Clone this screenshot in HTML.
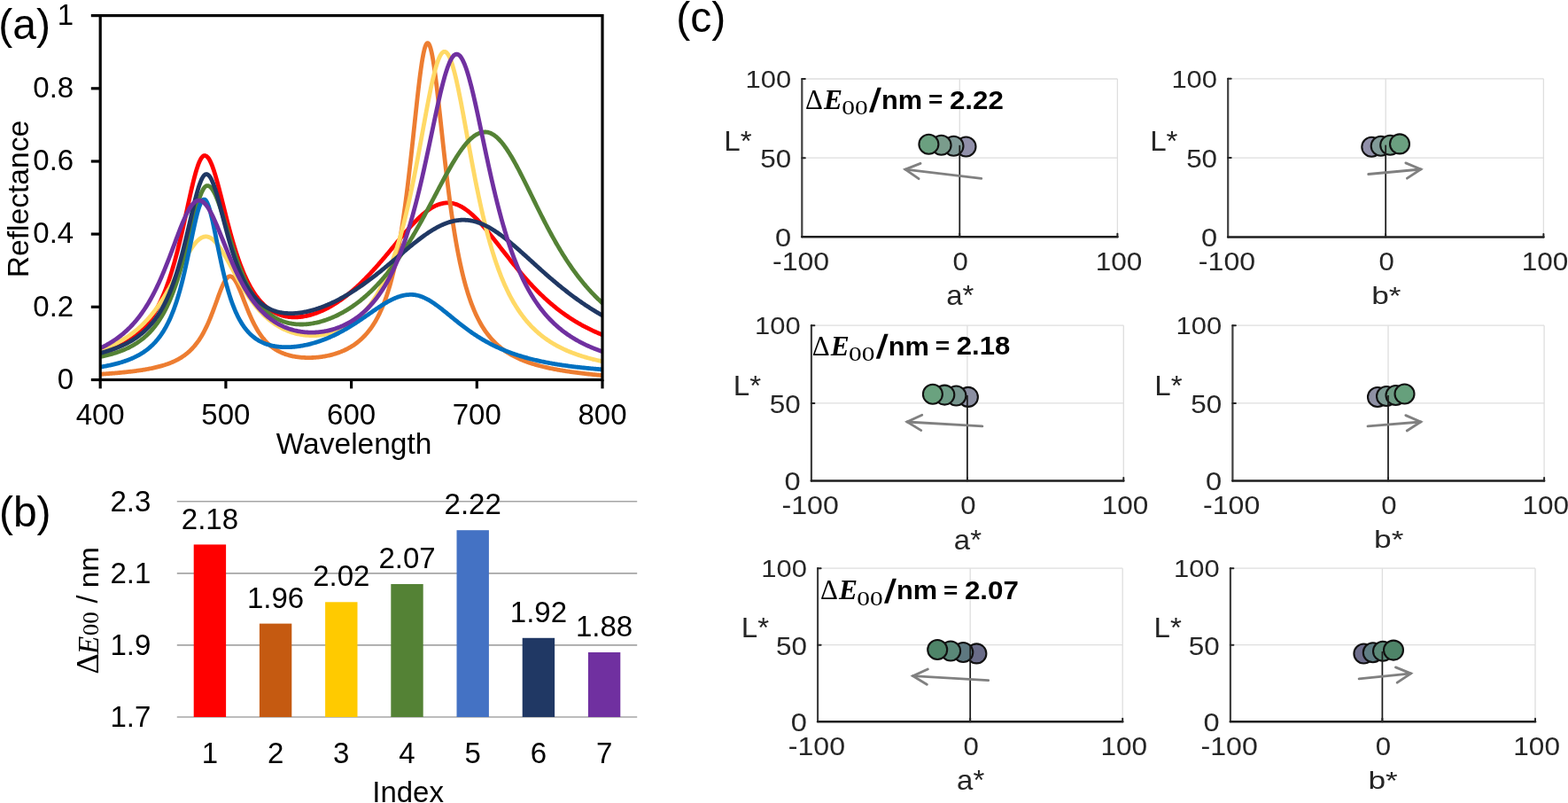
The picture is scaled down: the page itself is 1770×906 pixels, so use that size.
<!DOCTYPE html>
<html><head><meta charset="utf-8"><title>Figure</title>
<style>html,body{margin:0;padding:0;background:#fff;} svg{display:block;}</style>
</head><body>
<svg width="1770" height="906" viewBox="0 0 1770 906">
<rect width="1770" height="906" fill="#fff"/>
<defs><clipPath id="clipA"><rect x="113.2" y="17.6" width="566.8" height="410.9"/></clipPath></defs>
<g clip-path="url(#clipA)" fill="none" stroke-width="4.8" stroke-linejoin="round" stroke-linecap="round">
<path d="M111.2,398.75 L112.2,398.50 L113.2,398.24 L114.2,397.98 L115.2,397.70 L116.2,397.42 L117.2,397.13 L118.2,396.84 L119.2,396.53 L120.2,396.22 L121.2,395.89 L122.2,395.56 L123.2,395.22 L124.2,394.86 L125.2,394.50 L126.2,394.13 L127.2,393.75 L128.2,393.35 L129.2,392.94 L130.2,392.53 L131.2,392.09 L132.2,391.65 L133.2,391.20 L134.2,390.73 L135.2,390.24 L136.2,389.75 L137.2,389.23 L138.2,388.71 L139.2,388.16 L140.2,387.60 L141.2,387.03 L142.2,386.43 L143.2,385.82 L144.2,385.19 L145.2,384.54 L146.2,383.87 L147.2,383.18 L148.2,382.47 L149.2,381.74 L150.2,380.98 L151.2,380.20 L152.2,379.40 L153.2,378.57 L154.2,377.71 L155.2,376.83 L156.2,375.92 L157.2,374.98 L158.2,374.01 L159.2,373.00 L160.2,371.97 L161.2,370.90 L162.2,369.79 L163.2,368.65 L164.2,367.47 L165.2,366.25 L166.2,364.99 L167.2,363.69 L168.2,362.34 L169.2,360.95 L170.2,359.51 L171.2,358.02 L172.2,356.48 L173.2,354.89 L174.2,353.24 L175.2,351.53 L176.2,349.77 L177.2,347.94 L178.2,346.05 L179.2,344.09 L180.2,342.06 L181.2,339.97 L182.2,337.79 L183.2,335.55 L184.2,333.22 L185.2,330.82 L186.2,328.33 L187.2,325.75 L188.2,323.09 L189.2,320.33 L190.2,317.49 L191.2,314.54 L192.2,311.51 L193.2,308.37 L194.2,305.13 L195.2,301.79 L196.2,298.35 L197.2,294.80 L198.2,291.16 L199.2,287.41 L200.2,283.56 L201.2,279.61 L202.2,275.57 L203.2,271.43 L204.2,267.21 L205.2,262.91 L206.2,258.53 L207.2,254.09 L208.2,249.59 L209.2,245.05 L210.2,240.48 L211.2,235.90 L212.2,231.32 L213.2,226.75 L214.2,222.23 L215.2,217.78 L216.2,213.40 L217.2,209.14 L218.2,205.02 L219.2,201.06 L220.2,197.29 L221.2,193.74 L222.2,190.43 L223.2,187.40 L224.2,184.67 L225.2,182.26 L226.2,180.19 L227.2,178.48 L228.2,177.15 L229.2,176.21 L230.2,175.67 L231.2,175.52 L232.2,175.73 L233.2,176.28 L234.2,177.17 L235.2,178.38 L236.2,179.92 L237.2,181.76 L238.2,183.88 L239.2,186.27 L240.2,188.92 L241.2,191.79 L242.2,194.87 L243.2,198.14 L244.2,201.56 L245.2,205.14 L246.2,208.83 L247.2,212.62 L248.2,216.49 L249.2,220.42 L250.2,224.39 L251.2,228.39 L252.2,232.40 L253.2,236.40 L254.2,240.38 L255.2,244.34 L256.2,248.26 L257.2,252.12 L258.2,255.93 L259.2,259.68 L260.2,263.36 L261.2,266.96 L262.2,270.48 L263.2,273.92 L264.2,277.27 L265.2,280.54 L266.2,283.72 L267.2,286.80 L268.2,289.80 L269.2,292.71 L270.2,295.53 L271.2,298.26 L272.2,300.90 L273.2,303.46 L274.2,305.93 L275.2,308.31 L276.2,310.61 L277.2,312.84 L278.2,314.98 L279.2,317.05 L280.2,319.04 L281.2,320.96 L282.2,322.80 L283.2,324.58 L284.2,326.29 L285.2,327.94 L286.2,329.52 L287.2,331.04 L288.2,332.50 L289.2,333.90 L290.2,335.24 L291.2,336.54 L292.2,337.77 L293.2,338.96 L294.2,340.10 L295.2,341.19 L296.2,342.23 L297.2,343.23 L298.2,344.19 L299.2,345.10 L300.2,345.97 L301.2,346.80 L302.2,347.60 L303.2,348.35 L304.2,349.07 L305.2,349.75 L306.2,350.40 L307.2,351.02 L308.2,351.60 L309.2,352.16 L310.2,352.68 L311.2,353.17 L312.2,353.64 L313.2,354.07 L314.2,354.48 L315.2,354.87 L316.2,355.22 L317.2,355.55 L318.2,355.86 L319.2,356.14 L320.2,356.40 L321.2,356.64 L322.2,356.85 L323.2,357.05 L324.2,357.22 L325.2,357.37 L326.2,357.50 L327.2,357.61 L328.2,357.70 L329.2,357.77 L330.2,357.82 L331.2,357.86 L332.2,357.87 L333.2,357.87 L334.2,357.85 L335.2,357.82 L336.2,357.76 L337.2,357.70 L338.2,357.61 L339.2,357.51 L340.2,357.39 L341.2,357.26 L342.2,357.11 L343.2,356.94 L344.2,356.76 L345.2,356.57 L346.2,356.36 L347.2,356.14 L348.2,355.90 L349.2,355.65 L350.2,355.38 L351.2,355.11 L352.2,354.81 L353.2,354.51 L354.2,354.19 L355.2,353.85 L356.2,353.50 L357.2,353.14 L358.2,352.77 L359.2,352.38 L360.2,351.98 L361.2,351.57 L362.2,351.15 L363.2,350.71 L364.2,350.26 L365.2,349.80 L366.2,349.32 L367.2,348.83 L368.2,348.33 L369.2,347.82 L370.2,347.29 L371.2,346.76 L372.2,346.21 L373.2,345.64 L374.2,345.07 L375.2,344.48 L376.2,343.89 L377.2,343.27 L378.2,342.65 L379.2,342.02 L380.2,341.37 L381.2,340.71 L382.2,340.04 L383.2,339.36 L384.2,338.67 L385.2,337.96 L386.2,337.24 L387.2,336.51 L388.2,335.77 L389.2,335.02 L390.2,334.25 L391.2,333.48 L392.2,332.69 L393.2,331.89 L394.2,331.08 L395.2,330.25 L396.2,329.42 L397.2,328.57 L398.2,327.72 L399.2,326.85 L400.2,325.97 L401.2,325.08 L402.2,324.18 L403.2,323.26 L404.2,322.34 L405.2,321.41 L406.2,320.46 L407.2,319.50 L408.2,318.54 L409.2,317.56 L410.2,316.57 L411.2,315.58 L412.2,314.57 L413.2,313.55 L414.2,312.52 L415.2,311.49 L416.2,310.44 L417.2,309.38 L418.2,308.32 L419.2,307.24 L420.2,306.16 L421.2,305.07 L422.2,303.97 L423.2,302.86 L424.2,301.74 L425.2,300.62 L426.2,299.48 L427.2,298.34 L428.2,297.20 L429.2,296.05 L430.2,294.89 L431.2,293.72 L432.2,292.55 L433.2,291.37 L434.2,290.19 L435.2,289.01 L436.2,287.82 L437.2,286.62 L438.2,285.43 L439.2,284.22 L440.2,283.02 L441.2,281.82 L442.2,280.61 L443.2,279.40 L444.2,278.19 L445.2,276.98 L446.2,275.77 L447.2,274.57 L448.2,273.36 L449.2,272.16 L450.2,270.95 L451.2,269.76 L452.2,268.56 L453.2,267.37 L454.2,266.18 L455.2,265.00 L456.2,263.83 L457.2,262.66 L458.2,261.51 L459.2,260.35 L460.2,259.21 L461.2,258.08 L462.2,256.96 L463.2,255.85 L464.2,254.75 L465.2,253.67 L466.2,252.60 L467.2,251.54 L468.2,250.50 L469.2,249.47 L470.2,248.46 L471.2,247.47 L472.2,246.49 L473.2,245.54 L474.2,244.60 L475.2,243.69 L476.2,242.79 L477.2,241.92 L478.2,241.07 L479.2,240.24 L480.2,239.44 L481.2,238.66 L482.2,237.90 L483.2,237.18 L484.2,236.48 L485.2,235.80 L486.2,235.16 L487.2,234.54 L488.2,233.95 L489.2,233.40 L490.2,232.87 L491.2,232.37 L492.2,231.91 L493.2,231.47 L494.2,231.07 L495.2,230.70 L496.2,230.37 L497.2,230.06 L498.2,229.79 L499.2,229.56 L500.2,229.36 L501.2,229.19 L502.2,229.06 L503.2,228.96 L504.2,228.89 L505.2,228.87 L506.2,228.87 L507.2,228.92 L508.2,229.00 L509.2,229.12 L510.2,229.27 L511.2,229.47 L512.2,229.70 L513.2,229.97 L514.2,230.27 L515.2,230.61 L516.2,230.99 L517.2,231.40 L518.2,231.85 L519.2,232.33 L520.2,232.85 L521.2,233.40 L522.2,233.98 L523.2,234.60 L524.2,235.24 L525.2,235.92 L526.2,236.63 L527.2,237.37 L528.2,238.13 L529.2,238.93 L530.2,239.75 L531.2,240.60 L532.2,241.48 L533.2,242.38 L534.2,243.31 L535.2,244.25 L536.2,245.23 L537.2,246.22 L538.2,247.24 L539.2,248.27 L540.2,249.33 L541.2,250.40 L542.2,251.49 L543.2,252.60 L544.2,253.72 L545.2,254.86 L546.2,256.01 L547.2,257.18 L548.2,258.36 L549.2,259.55 L550.2,260.76 L551.2,261.97 L552.2,263.19 L553.2,264.42 L554.2,265.66 L555.2,266.91 L556.2,268.16 L557.2,269.42 L558.2,270.69 L559.2,271.96 L560.2,273.23 L561.2,274.50 L562.2,275.78 L563.2,277.06 L564.2,278.35 L565.2,279.63 L566.2,280.91 L567.2,282.19 L568.2,283.47 L569.2,284.75 L570.2,286.03 L571.2,287.31 L572.2,288.58 L573.2,289.85 L574.2,291.12 L575.2,292.38 L576.2,293.64 L577.2,294.89 L578.2,296.14 L579.2,297.38 L580.2,298.62 L581.2,299.85 L582.2,301.07 L583.2,302.29 L584.2,303.50 L585.2,304.70 L586.2,305.90 L587.2,307.09 L588.2,308.27 L589.2,309.44 L590.2,310.60 L591.2,311.76 L592.2,312.90 L593.2,314.04 L594.2,315.17 L595.2,316.29 L596.2,317.40 L597.2,318.50 L598.2,319.59 L599.2,320.67 L600.2,321.75 L601.2,322.81 L602.2,323.86 L603.2,324.91 L604.2,325.94 L605.2,326.96 L606.2,327.98 L607.2,328.98 L608.2,329.97 L609.2,330.96 L610.2,331.93 L611.2,332.90 L612.2,333.85 L613.2,334.79 L614.2,335.73 L615.2,336.65 L616.2,337.56 L617.2,338.47 L618.2,339.36 L619.2,340.24 L620.2,341.12 L621.2,341.98 L622.2,342.84 L623.2,343.68 L624.2,344.52 L625.2,345.34 L626.2,346.16 L627.2,346.96 L628.2,347.76 L629.2,348.55 L630.2,349.33 L631.2,350.09 L632.2,350.85 L633.2,351.60 L634.2,352.34 L635.2,353.08 L636.2,353.80 L637.2,354.51 L638.2,355.22 L639.2,355.92 L640.2,356.60 L641.2,357.28 L642.2,357.95 L643.2,358.62 L644.2,359.27 L645.2,359.92 L646.2,360.55 L647.2,361.18 L648.2,361.80 L649.2,362.42 L650.2,363.02 L651.2,363.62 L652.2,364.21 L653.2,364.79 L654.2,365.36 L655.2,365.93 L656.2,366.49 L657.2,367.04 L658.2,367.59 L659.2,368.12 L660.2,368.65 L661.2,369.18 L662.2,369.69 L663.2,370.20 L664.2,370.70 L665.2,371.20 L666.2,371.69 L667.2,372.17 L668.2,372.64 L669.2,373.11 L670.2,373.58 L671.2,374.03 L672.2,374.48 L673.2,374.93 L674.2,375.36 L675.2,375.79 L676.2,376.22 L677.2,376.64 L678.2,377.05 L679.2,377.46 L680.2,377.86 L681.2,378.26" stroke="#FF0000"/>
<path d="M111.2,422.32 L112.2,422.26 L113.2,422.19 L114.2,422.13 L115.2,422.06 L116.2,421.99 L117.2,421.93 L118.2,421.86 L119.2,421.79 L120.2,421.72 L121.2,421.64 L122.2,421.57 L123.2,421.49 L124.2,421.42 L125.2,421.34 L126.2,421.26 L127.2,421.18 L128.2,421.10 L129.2,421.02 L130.2,420.94 L131.2,420.85 L132.2,420.77 L133.2,420.68 L134.2,420.59 L135.2,420.50 L136.2,420.40 L137.2,420.31 L138.2,420.21 L139.2,420.11 L140.2,420.01 L141.2,419.91 L142.2,419.81 L143.2,419.70 L144.2,419.59 L145.2,419.48 L146.2,419.37 L147.2,419.26 L148.2,419.14 L149.2,419.02 L150.2,418.90 L151.2,418.77 L152.2,418.64 L153.2,418.51 L154.2,418.38 L155.2,418.24 L156.2,418.10 L157.2,417.96 L158.2,417.81 L159.2,417.66 L160.2,417.51 L161.2,417.35 L162.2,417.19 L163.2,417.03 L164.2,416.86 L165.2,416.68 L166.2,416.50 L167.2,416.32 L168.2,416.13 L169.2,415.94 L170.2,415.74 L171.2,415.54 L172.2,415.33 L173.2,415.12 L174.2,414.90 L175.2,414.67 L176.2,414.43 L177.2,414.19 L178.2,413.95 L179.2,413.69 L180.2,413.43 L181.2,413.16 L182.2,412.88 L183.2,412.59 L184.2,412.29 L185.2,411.98 L186.2,411.67 L187.2,411.34 L188.2,411.00 L189.2,410.65 L190.2,410.29 L191.2,409.91 L192.2,409.53 L193.2,409.12 L194.2,408.71 L195.2,408.28 L196.2,407.83 L197.2,407.37 L198.2,406.89 L199.2,406.39 L200.2,405.87 L201.2,405.33 L202.2,404.78 L203.2,404.20 L204.2,403.59 L205.2,402.96 L206.2,402.31 L207.2,401.63 L208.2,400.92 L209.2,400.18 L210.2,399.41 L211.2,398.61 L212.2,397.77 L213.2,396.90 L214.2,395.98 L215.2,395.03 L216.2,394.04 L217.2,393.00 L218.2,391.91 L219.2,390.78 L220.2,389.59 L221.2,388.35 L222.2,387.06 L223.2,385.70 L224.2,384.29 L225.2,382.81 L226.2,381.26 L227.2,379.64 L228.2,377.95 L229.2,376.19 L230.2,374.35 L231.2,372.44 L232.2,370.44 L233.2,368.36 L234.2,366.20 L235.2,363.97 L236.2,361.65 L237.2,359.25 L238.2,356.77 L239.2,354.23 L240.2,351.62 L241.2,348.95 L242.2,346.24 L243.2,343.49 L244.2,340.72 L245.2,337.94 L246.2,335.17 L247.2,332.44 L248.2,329.76 L249.2,327.17 L250.2,324.68 L251.2,322.34 L252.2,320.16 L253.2,318.17 L254.2,316.41 L255.2,314.90 L256.2,313.66 L257.2,312.72 L258.2,312.08 L259.2,311.76 L260.2,311.76 L261.2,312.06 L262.2,312.65 L263.2,313.52 L264.2,314.67 L265.2,316.06 L266.2,317.68 L267.2,319.51 L268.2,321.52 L269.2,323.68 L270.2,325.97 L271.2,328.36 L272.2,330.83 L273.2,333.36 L274.2,335.93 L275.2,338.51 L276.2,341.08 L277.2,343.65 L278.2,346.18 L279.2,348.67 L280.2,351.11 L281.2,353.49 L282.2,355.81 L283.2,358.06 L284.2,360.24 L285.2,362.35 L286.2,364.38 L287.2,366.33 L288.2,368.21 L289.2,370.01 L290.2,371.74 L291.2,373.39 L292.2,374.98 L293.2,376.49 L294.2,377.94 L295.2,379.32 L296.2,380.64 L297.2,381.90 L298.2,383.10 L299.2,384.25 L300.2,385.34 L301.2,386.38 L302.2,387.37 L303.2,388.32 L304.2,389.22 L305.2,390.08 L306.2,390.89 L307.2,391.67 L308.2,392.41 L309.2,393.11 L310.2,393.78 L311.2,394.41 L312.2,395.02 L313.2,395.59 L314.2,396.14 L315.2,396.66 L316.2,397.15 L317.2,397.62 L318.2,398.06 L319.2,398.48 L320.2,398.88 L321.2,399.26 L322.2,399.62 L323.2,399.95 L324.2,400.27 L325.2,400.57 L326.2,400.85 L327.2,401.12 L328.2,401.37 L329.2,401.60 L330.2,401.82 L331.2,402.03 L332.2,402.22 L333.2,402.39 L334.2,402.56 L335.2,402.70 L336.2,402.84 L337.2,402.97 L338.2,403.08 L339.2,403.18 L340.2,403.27 L341.2,403.35 L342.2,403.41 L343.2,403.47 L344.2,403.52 L345.2,403.55 L346.2,403.58 L347.2,403.59 L348.2,403.60 L349.2,403.59 L350.2,403.58 L351.2,403.55 L352.2,403.52 L353.2,403.48 L354.2,403.42 L355.2,403.36 L356.2,403.29 L357.2,403.21 L358.2,403.12 L359.2,403.02 L360.2,402.91 L361.2,402.79 L362.2,402.66 L363.2,402.52 L364.2,402.37 L365.2,402.21 L366.2,402.04 L367.2,401.87 L368.2,401.68 L369.2,401.48 L370.2,401.27 L371.2,401.05 L372.2,400.82 L373.2,400.58 L374.2,400.33 L375.2,400.06 L376.2,399.79 L377.2,399.50 L378.2,399.20 L379.2,398.89 L380.2,398.56 L381.2,398.22 L382.2,397.87 L383.2,397.51 L384.2,397.13 L385.2,396.73 L386.2,396.32 L387.2,395.90 L388.2,395.46 L389.2,395.00 L390.2,394.52 L391.2,394.03 L392.2,393.52 L393.2,392.99 L394.2,392.44 L395.2,391.87 L396.2,391.28 L397.2,390.67 L398.2,390.04 L399.2,389.38 L400.2,388.70 L401.2,387.99 L402.2,387.26 L403.2,386.50 L404.2,385.71 L405.2,384.89 L406.2,384.04 L407.2,383.16 L408.2,382.25 L409.2,381.30 L410.2,380.32 L411.2,379.30 L412.2,378.24 L413.2,377.13 L414.2,375.99 L415.2,374.80 L416.2,373.56 L417.2,372.28 L418.2,370.94 L419.2,369.55 L420.2,368.10 L421.2,366.59 L422.2,365.02 L423.2,363.39 L424.2,361.68 L425.2,359.91 L426.2,358.06 L427.2,356.13 L428.2,354.12 L429.2,352.02 L430.2,349.83 L431.2,347.54 L432.2,345.16 L433.2,342.66 L434.2,340.06 L435.2,337.33 L436.2,334.48 L437.2,331.51 L438.2,328.39 L439.2,325.14 L440.2,321.73 L441.2,318.16 L442.2,314.43 L443.2,310.52 L444.2,306.43 L445.2,302.15 L446.2,297.67 L447.2,292.98 L448.2,288.07 L449.2,282.94 L450.2,277.57 L451.2,271.95 L452.2,266.08 L453.2,259.96 L454.2,253.56 L455.2,246.90 L456.2,239.96 L457.2,232.74 L458.2,225.24 L459.2,217.47 L460.2,209.44 L461.2,201.14 L462.2,192.59 L463.2,183.83 L464.2,174.86 L465.2,165.72 L466.2,156.46 L467.2,147.11 L468.2,137.73 L469.2,128.39 L470.2,119.15 L471.2,110.09 L472.2,101.30 L473.2,92.87 L474.2,84.90 L475.2,77.49 L476.2,70.72 L477.2,64.71 L478.2,59.54 L479.2,55.29 L480.2,52.04 L481.2,49.83 L482.2,48.72 L483.2,48.70 L484.2,49.76 L485.2,51.86 L486.2,54.98 L487.2,59.06 L488.2,64.05 L489.2,69.85 L490.2,76.39 L491.2,83.59 L492.2,91.34 L493.2,99.55 L494.2,108.13 L495.2,117.00 L496.2,126.06 L497.2,135.25 L498.2,144.49 L499.2,153.73 L500.2,162.90 L501.2,171.97 L502.2,180.89 L503.2,189.63 L504.2,198.17 L505.2,206.47 L506.2,214.54 L507.2,222.35 L508.2,229.90 L509.2,237.19 L510.2,244.20 L511.2,250.95 L512.2,257.44 L513.2,263.67 L514.2,269.64 L515.2,275.37 L516.2,280.85 L517.2,286.11 L518.2,291.14 L519.2,295.95 L520.2,300.56 L521.2,304.96 L522.2,309.18 L523.2,313.22 L524.2,317.08 L525.2,320.77 L526.2,324.31 L527.2,327.69 L528.2,330.93 L529.2,334.03 L530.2,337.01 L531.2,339.85 L532.2,342.58 L533.2,345.20 L534.2,347.71 L535.2,350.11 L536.2,352.42 L537.2,354.64 L538.2,356.77 L539.2,358.81 L540.2,360.78 L541.2,362.67 L542.2,364.48 L543.2,366.23 L544.2,367.91 L545.2,369.53 L546.2,371.09 L547.2,372.59 L548.2,374.03 L549.2,375.43 L550.2,376.77 L551.2,378.07 L552.2,379.32 L553.2,380.53 L554.2,381.70 L555.2,382.83 L556.2,383.92 L557.2,384.97 L558.2,385.99 L559.2,386.98 L560.2,387.93 L561.2,388.85 L562.2,389.75 L563.2,390.61 L564.2,391.45 L565.2,392.26 L566.2,393.05 L567.2,393.82 L568.2,394.56 L569.2,395.28 L570.2,395.98 L571.2,396.65 L572.2,397.31 L573.2,397.95 L574.2,398.57 L575.2,399.18 L576.2,399.77 L577.2,400.34 L578.2,400.89 L579.2,401.43 L580.2,401.96 L581.2,402.47 L582.2,402.97 L583.2,403.46 L584.2,403.93 L585.2,404.39 L586.2,404.84 L587.2,405.28 L588.2,405.71 L589.2,406.13 L590.2,406.54 L591.2,406.93 L592.2,407.32 L593.2,407.70 L594.2,408.07 L595.2,408.43 L596.2,408.79 L597.2,409.13 L598.2,409.47 L599.2,409.80 L600.2,410.12 L601.2,410.44 L602.2,410.74 L603.2,411.05 L604.2,411.34 L605.2,411.63 L606.2,411.91 L607.2,412.19 L608.2,412.46 L609.2,412.73 L610.2,412.99 L611.2,413.25 L612.2,413.50 L613.2,413.74 L614.2,413.98 L615.2,414.22 L616.2,414.45 L617.2,414.68 L618.2,414.90 L619.2,415.12 L620.2,415.33 L621.2,415.54 L622.2,415.75 L623.2,415.95 L624.2,416.15 L625.2,416.35 L626.2,416.54 L627.2,416.73 L628.2,416.92 L629.2,417.10 L630.2,417.28 L631.2,417.46 L632.2,417.63 L633.2,417.80 L634.2,417.97 L635.2,418.13 L636.2,418.30 L637.2,418.46 L638.2,418.61 L639.2,418.77 L640.2,418.92 L641.2,419.07 L642.2,419.22 L643.2,419.37 L644.2,419.51 L645.2,419.65 L646.2,419.79 L647.2,419.93 L648.2,420.07 L649.2,420.20 L650.2,420.33 L651.2,420.46 L652.2,420.59 L653.2,420.72 L654.2,420.84 L655.2,420.96 L656.2,421.09 L657.2,421.21 L658.2,421.32 L659.2,421.44 L660.2,421.56 L661.2,421.67 L662.2,421.78 L663.2,421.89 L664.2,422.00 L665.2,422.11 L666.2,422.22 L667.2,422.33 L668.2,422.43 L669.2,422.53 L670.2,422.64 L671.2,422.74 L672.2,422.84 L673.2,422.94 L674.2,423.03 L675.2,423.13 L676.2,423.23 L677.2,423.32 L678.2,423.41 L679.2,423.51 L680.2,423.60 L681.2,423.69" stroke="#ED7D31"/>
<path d="M111.2,395.20 L112.2,394.88 L113.2,394.55 L114.2,394.22 L115.2,393.88 L116.2,393.53 L117.2,393.17 L118.2,392.81 L119.2,392.43 L120.2,392.05 L121.2,391.66 L122.2,391.26 L123.2,390.86 L124.2,390.44 L125.2,390.01 L126.2,389.58 L127.2,389.13 L128.2,388.68 L129.2,388.21 L130.2,387.74 L131.2,387.25 L132.2,386.75 L133.2,386.24 L134.2,385.72 L135.2,385.19 L136.2,384.64 L137.2,384.08 L138.2,383.51 L139.2,382.93 L140.2,382.33 L141.2,381.72 L142.2,381.09 L143.2,380.45 L144.2,379.80 L145.2,379.13 L146.2,378.44 L147.2,377.74 L148.2,377.02 L149.2,376.28 L150.2,375.53 L151.2,374.76 L152.2,373.97 L153.2,373.17 L154.2,372.34 L155.2,371.50 L156.2,370.63 L157.2,369.75 L158.2,368.84 L159.2,367.92 L160.2,366.97 L161.2,366.00 L162.2,365.01 L163.2,364.00 L164.2,362.96 L165.2,361.90 L166.2,360.81 L167.2,359.70 L168.2,358.57 L169.2,357.41 L170.2,356.22 L171.2,355.01 L172.2,353.78 L173.2,352.51 L174.2,351.22 L175.2,349.90 L176.2,348.55 L177.2,347.18 L178.2,345.78 L179.2,344.35 L180.2,342.89 L181.2,341.41 L182.2,339.89 L183.2,338.35 L184.2,336.78 L185.2,335.19 L186.2,333.57 L187.2,331.92 L188.2,330.24 L189.2,328.54 L190.2,326.82 L191.2,325.07 L192.2,323.31 L193.2,321.52 L194.2,319.71 L195.2,317.88 L196.2,316.04 L197.2,314.18 L198.2,312.31 L199.2,310.43 L200.2,308.54 L201.2,306.65 L202.2,304.76 L203.2,302.86 L204.2,300.97 L205.2,299.09 L206.2,297.22 L207.2,295.37 L208.2,293.54 L209.2,291.72 L210.2,289.94 L211.2,288.19 L212.2,286.47 L213.2,284.80 L214.2,283.17 L215.2,281.60 L216.2,280.08 L217.2,278.62 L218.2,277.23 L219.2,275.90 L220.2,274.66 L221.2,273.49 L222.2,272.40 L223.2,271.41 L224.2,270.50 L225.2,269.69 L226.2,268.98 L227.2,268.37 L228.2,267.87 L229.2,267.47 L230.2,267.17 L231.2,266.99 L232.2,266.91 L233.2,266.95 L234.2,267.09 L235.2,267.34 L236.2,267.71 L237.2,268.17 L238.2,268.75 L239.2,269.42 L240.2,270.19 L241.2,271.06 L242.2,272.02 L243.2,273.07 L244.2,274.20 L245.2,275.41 L246.2,276.69 L247.2,278.04 L248.2,279.46 L249.2,280.94 L250.2,282.47 L251.2,284.05 L252.2,285.67 L253.2,287.34 L254.2,289.04 L255.2,290.77 L256.2,292.53 L257.2,294.30 L258.2,296.10 L259.2,297.91 L260.2,299.72 L261.2,301.55 L262.2,303.37 L263.2,305.20 L264.2,307.01 L265.2,308.83 L266.2,310.63 L267.2,312.42 L268.2,314.20 L269.2,315.96 L270.2,317.70 L271.2,319.42 L272.2,321.12 L273.2,322.80 L274.2,324.46 L275.2,326.09 L276.2,327.69 L277.2,329.27 L278.2,330.82 L279.2,332.34 L280.2,333.83 L281.2,335.29 L282.2,336.73 L283.2,338.13 L284.2,339.51 L285.2,340.85 L286.2,342.17 L287.2,343.46 L288.2,344.71 L289.2,345.94 L290.2,347.14 L291.2,348.31 L292.2,349.45 L293.2,350.57 L294.2,351.65 L295.2,352.71 L296.2,353.74 L297.2,354.74 L298.2,355.72 L299.2,356.67 L300.2,357.59 L301.2,358.49 L302.2,359.36 L303.2,360.21 L304.2,361.04 L305.2,361.84 L306.2,362.61 L307.2,363.37 L308.2,364.10 L309.2,364.81 L310.2,365.50 L311.2,366.16 L312.2,366.81 L313.2,367.43 L314.2,368.04 L315.2,368.62 L316.2,369.18 L317.2,369.73 L318.2,370.26 L319.2,370.76 L320.2,371.25 L321.2,371.72 L322.2,372.17 L323.2,372.61 L324.2,373.03 L325.2,373.43 L326.2,373.82 L327.2,374.18 L328.2,374.54 L329.2,374.87 L330.2,375.19 L331.2,375.50 L332.2,375.79 L333.2,376.06 L334.2,376.32 L335.2,376.57 L336.2,376.80 L337.2,377.01 L338.2,377.22 L339.2,377.40 L340.2,377.58 L341.2,377.74 L342.2,377.88 L343.2,378.02 L344.2,378.14 L345.2,378.24 L346.2,378.33 L347.2,378.41 L348.2,378.48 L349.2,378.53 L350.2,378.57 L351.2,378.59 L352.2,378.61 L353.2,378.61 L354.2,378.59 L355.2,378.57 L356.2,378.53 L357.2,378.48 L358.2,378.41 L359.2,378.33 L360.2,378.24 L361.2,378.14 L362.2,378.02 L363.2,377.89 L364.2,377.74 L365.2,377.58 L366.2,377.41 L367.2,377.22 L368.2,377.02 L369.2,376.81 L370.2,376.58 L371.2,376.34 L372.2,376.09 L373.2,375.81 L374.2,375.53 L375.2,375.23 L376.2,374.91 L377.2,374.58 L378.2,374.24 L379.2,373.87 L380.2,373.50 L381.2,373.10 L382.2,372.69 L383.2,372.26 L384.2,371.82 L385.2,371.36 L386.2,370.88 L387.2,370.38 L388.2,369.86 L389.2,369.33 L390.2,368.78 L391.2,368.20 L392.2,367.61 L393.2,366.99 L394.2,366.36 L395.2,365.70 L396.2,365.03 L397.2,364.33 L398.2,363.60 L399.2,362.86 L400.2,362.09 L401.2,361.29 L402.2,360.47 L403.2,359.63 L404.2,358.76 L405.2,357.86 L406.2,356.93 L407.2,355.98 L408.2,354.99 L409.2,353.98 L410.2,352.93 L411.2,351.86 L412.2,350.75 L413.2,349.61 L414.2,348.43 L415.2,347.22 L416.2,345.97 L417.2,344.68 L418.2,343.36 L419.2,342.00 L420.2,340.59 L421.2,339.15 L422.2,337.66 L423.2,336.12 L424.2,334.54 L425.2,332.92 L426.2,331.24 L427.2,329.52 L428.2,327.74 L429.2,325.92 L430.2,324.03 L431.2,322.10 L432.2,320.10 L433.2,318.05 L434.2,315.93 L435.2,313.76 L436.2,311.51 L437.2,309.21 L438.2,306.83 L439.2,304.39 L440.2,301.87 L441.2,299.28 L442.2,296.62 L443.2,293.88 L444.2,291.06 L445.2,288.15 L446.2,285.17 L447.2,282.10 L448.2,278.94 L449.2,275.70 L450.2,272.36 L451.2,268.94 L452.2,265.42 L453.2,261.80 L454.2,258.09 L455.2,254.28 L456.2,250.38 L457.2,246.37 L458.2,242.27 L459.2,238.06 L460.2,233.76 L461.2,229.36 L462.2,224.85 L463.2,220.25 L464.2,215.56 L465.2,210.77 L466.2,205.89 L467.2,200.92 L468.2,195.87 L469.2,190.73 L470.2,185.53 L471.2,180.26 L472.2,174.92 L473.2,169.54 L474.2,164.11 L475.2,158.65 L476.2,153.17 L477.2,147.68 L478.2,142.19 L479.2,136.71 L480.2,131.28 L481.2,125.89 L482.2,120.56 L483.2,115.33 L484.2,110.19 L485.2,105.18 L486.2,100.32 L487.2,95.62 L488.2,91.10 L489.2,86.80 L490.2,82.72 L491.2,78.90 L492.2,75.35 L493.2,72.08 L494.2,69.13 L495.2,66.50 L496.2,64.21 L497.2,62.29 L498.2,60.73 L499.2,59.55 L500.2,58.75 L501.2,58.35 L502.2,58.34 L503.2,58.72 L504.2,59.49 L505.2,60.64 L506.2,62.17 L507.2,64.06 L508.2,66.31 L509.2,68.90 L510.2,71.81 L511.2,75.04 L512.2,78.56 L513.2,82.35 L514.2,86.39 L515.2,90.67 L516.2,95.16 L517.2,99.84 L518.2,104.69 L519.2,109.69 L520.2,114.82 L521.2,120.06 L522.2,125.40 L523.2,130.80 L524.2,136.26 L525.2,141.76 L526.2,147.29 L527.2,152.82 L528.2,158.35 L529.2,163.86 L530.2,169.34 L531.2,174.79 L532.2,180.19 L533.2,185.54 L534.2,190.82 L535.2,196.03 L536.2,201.17 L537.2,206.23 L538.2,211.20 L539.2,216.09 L540.2,220.88 L541.2,225.59 L542.2,230.19 L543.2,234.71 L544.2,239.12 L545.2,243.44 L546.2,247.66 L547.2,251.78 L548.2,255.80 L549.2,259.73 L550.2,263.56 L551.2,267.30 L552.2,270.94 L553.2,274.49 L554.2,277.96 L555.2,281.33 L556.2,284.61 L557.2,287.81 L558.2,290.92 L559.2,293.96 L560.2,296.91 L561.2,299.78 L562.2,302.58 L563.2,305.30 L564.2,307.95 L565.2,310.53 L566.2,313.04 L567.2,315.49 L568.2,317.86 L569.2,320.18 L570.2,322.43 L571.2,324.62 L572.2,326.76 L573.2,328.83 L574.2,330.86 L575.2,332.83 L576.2,334.74 L577.2,336.61 L578.2,338.43 L579.2,340.20 L580.2,341.92 L581.2,343.60 L582.2,345.24 L583.2,346.83 L584.2,348.38 L585.2,349.90 L586.2,351.37 L587.2,352.81 L588.2,354.21 L589.2,355.58 L590.2,356.91 L591.2,358.21 L592.2,359.48 L593.2,360.71 L594.2,361.92 L595.2,363.09 L596.2,364.24 L597.2,365.36 L598.2,366.45 L599.2,367.52 L600.2,368.56 L601.2,369.58 L602.2,370.57 L603.2,371.54 L604.2,372.49 L605.2,373.41 L606.2,374.31 L607.2,375.20 L608.2,376.06 L609.2,376.90 L610.2,377.73 L611.2,378.53 L612.2,379.32 L613.2,380.09 L614.2,380.84 L615.2,381.58 L616.2,382.30 L617.2,383.00 L618.2,383.69 L619.2,384.36 L620.2,385.02 L621.2,385.67 L622.2,386.30 L623.2,386.92 L624.2,387.52 L625.2,388.12 L626.2,388.69 L627.2,389.26 L628.2,389.82 L629.2,390.36 L630.2,390.90 L631.2,391.42 L632.2,391.93 L633.2,392.43 L634.2,392.92 L635.2,393.41 L636.2,393.88 L637.2,394.34 L638.2,394.80 L639.2,395.24 L640.2,395.68 L641.2,396.10 L642.2,396.52 L643.2,396.93 L644.2,397.34 L645.2,397.73 L646.2,398.12 L647.2,398.50 L648.2,398.87 L649.2,399.24 L650.2,399.60 L651.2,399.95 L652.2,400.30 L653.2,400.64 L654.2,400.97 L655.2,401.30 L656.2,401.62 L657.2,401.93 L658.2,402.24 L659.2,402.55 L660.2,402.84 L661.2,403.14 L662.2,403.42 L663.2,403.71 L664.2,403.98 L665.2,404.26 L666.2,404.52 L667.2,404.79 L668.2,405.05 L669.2,405.30 L670.2,405.55 L671.2,405.79 L672.2,406.03 L673.2,406.27 L674.2,406.50 L675.2,406.73 L676.2,406.96 L677.2,407.18 L678.2,407.39 L679.2,407.61 L680.2,407.81 L681.2,408.02" stroke="#FFD966"/>
<path d="M111.2,402.85 L112.2,402.66 L113.2,402.47 L114.2,402.27 L115.2,402.06 L116.2,401.85 L117.2,401.64 L118.2,401.42 L119.2,401.19 L120.2,400.95 L121.2,400.71 L122.2,400.46 L123.2,400.20 L124.2,399.94 L125.2,399.67 L126.2,399.39 L127.2,399.10 L128.2,398.81 L129.2,398.50 L130.2,398.19 L131.2,397.87 L132.2,397.54 L133.2,397.20 L134.2,396.85 L135.2,396.49 L136.2,396.11 L137.2,395.73 L138.2,395.34 L139.2,394.93 L140.2,394.52 L141.2,394.09 L142.2,393.65 L143.2,393.19 L144.2,392.72 L145.2,392.24 L146.2,391.74 L147.2,391.23 L148.2,390.70 L149.2,390.15 L150.2,389.59 L151.2,389.01 L152.2,388.41 L153.2,387.80 L154.2,387.16 L155.2,386.51 L156.2,385.83 L157.2,385.13 L158.2,384.41 L159.2,383.67 L160.2,382.90 L161.2,382.10 L162.2,381.28 L163.2,380.44 L164.2,379.56 L165.2,378.66 L166.2,377.72 L167.2,376.75 L168.2,375.75 L169.2,374.72 L170.2,373.65 L171.2,372.54 L172.2,371.40 L173.2,370.21 L174.2,368.99 L175.2,367.72 L176.2,366.40 L177.2,365.04 L178.2,363.63 L179.2,362.17 L180.2,360.65 L181.2,359.08 L182.2,357.46 L183.2,355.77 L184.2,354.03 L185.2,352.22 L186.2,350.34 L187.2,348.40 L188.2,346.39 L189.2,344.30 L190.2,342.14 L191.2,339.90 L192.2,337.58 L193.2,335.18 L194.2,332.69 L195.2,330.12 L196.2,327.46 L197.2,324.71 L198.2,321.86 L199.2,318.92 L200.2,315.89 L201.2,312.76 L202.2,309.54 L203.2,306.22 L204.2,302.81 L205.2,299.31 L206.2,295.72 L207.2,292.04 L208.2,288.28 L209.2,284.45 L210.2,280.55 L211.2,276.58 L212.2,272.57 L213.2,268.52 L214.2,264.44 L215.2,260.36 L216.2,256.28 L217.2,252.22 L218.2,248.21 L219.2,244.26 L220.2,240.40 L221.2,236.65 L222.2,233.05 L223.2,229.60 L224.2,226.35 L225.2,223.32 L226.2,220.53 L227.2,218.01 L228.2,215.79 L229.2,213.87 L230.2,212.29 L231.2,211.06 L232.2,210.19 L233.2,209.69 L234.2,209.55 L235.2,209.70 L236.2,210.12 L237.2,210.81 L238.2,211.75 L239.2,212.95 L240.2,214.39 L241.2,216.05 L242.2,217.94 L243.2,220.02 L244.2,222.29 L245.2,224.74 L246.2,227.33 L247.2,230.07 L248.2,232.93 L249.2,235.89 L250.2,238.94 L251.2,242.07 L252.2,245.26 L253.2,248.49 L254.2,251.75 L255.2,255.03 L256.2,258.32 L257.2,261.61 L258.2,264.88 L259.2,268.13 L260.2,271.35 L261.2,274.53 L262.2,277.67 L263.2,280.76 L264.2,283.79 L265.2,286.77 L266.2,289.69 L267.2,292.55 L268.2,295.33 L269.2,298.06 L270.2,300.71 L271.2,303.29 L272.2,305.80 L273.2,308.24 L274.2,310.61 L275.2,312.91 L276.2,315.14 L277.2,317.31 L278.2,319.40 L279.2,321.43 L280.2,323.39 L281.2,325.28 L282.2,327.12 L283.2,328.89 L284.2,330.60 L285.2,332.25 L286.2,333.84 L287.2,335.38 L288.2,336.86 L289.2,338.29 L290.2,339.66 L291.2,340.99 L292.2,342.26 L293.2,343.49 L294.2,344.67 L295.2,345.81 L296.2,346.90 L297.2,347.96 L298.2,348.96 L299.2,349.93 L300.2,350.87 L301.2,351.76 L302.2,352.62 L303.2,353.44 L304.2,354.23 L305.2,354.98 L306.2,355.70 L307.2,356.39 L308.2,357.05 L309.2,357.68 L310.2,358.28 L311.2,358.85 L312.2,359.40 L313.2,359.92 L314.2,360.41 L315.2,360.88 L316.2,361.32 L317.2,361.74 L318.2,362.14 L319.2,362.52 L320.2,362.87 L321.2,363.20 L322.2,363.51 L323.2,363.80 L324.2,364.07 L325.2,364.32 L326.2,364.55 L327.2,364.77 L328.2,364.96 L329.2,365.14 L330.2,365.30 L331.2,365.44 L332.2,365.57 L333.2,365.68 L334.2,365.77 L335.2,365.85 L336.2,365.91 L337.2,365.96 L338.2,365.99 L339.2,366.01 L340.2,366.01 L341.2,366.00 L342.2,365.98 L343.2,365.94 L344.2,365.89 L345.2,365.82 L346.2,365.74 L347.2,365.65 L348.2,365.55 L349.2,365.43 L350.2,365.30 L351.2,365.16 L352.2,365.00 L353.2,364.84 L354.2,364.66 L355.2,364.47 L356.2,364.26 L357.2,364.05 L358.2,363.82 L359.2,363.58 L360.2,363.34 L361.2,363.07 L362.2,362.80 L363.2,362.52 L364.2,362.22 L365.2,361.92 L366.2,361.60 L367.2,361.27 L368.2,360.93 L369.2,360.58 L370.2,360.21 L371.2,359.84 L372.2,359.45 L373.2,359.06 L374.2,358.65 L375.2,358.23 L376.2,357.80 L377.2,357.36 L378.2,356.91 L379.2,356.45 L380.2,355.97 L381.2,355.49 L382.2,354.99 L383.2,354.48 L384.2,353.96 L385.2,353.43 L386.2,352.89 L387.2,352.34 L388.2,351.77 L389.2,351.19 L390.2,350.61 L391.2,350.01 L392.2,349.39 L393.2,348.77 L394.2,348.14 L395.2,347.49 L396.2,346.83 L397.2,346.16 L398.2,345.47 L399.2,344.78 L400.2,344.07 L401.2,343.35 L402.2,342.62 L403.2,341.87 L404.2,341.12 L405.2,340.35 L406.2,339.56 L407.2,338.77 L408.2,337.96 L409.2,337.14 L410.2,336.30 L411.2,335.45 L412.2,334.59 L413.2,333.72 L414.2,332.83 L415.2,331.93 L416.2,331.01 L417.2,330.08 L418.2,329.14 L419.2,328.18 L420.2,327.21 L421.2,326.22 L422.2,325.22 L423.2,324.21 L424.2,323.18 L425.2,322.14 L426.2,321.08 L427.2,320.01 L428.2,318.92 L429.2,317.82 L430.2,316.70 L431.2,315.56 L432.2,314.42 L433.2,313.25 L434.2,312.07 L435.2,310.88 L436.2,309.67 L437.2,308.44 L438.2,307.20 L439.2,305.94 L440.2,304.67 L441.2,303.38 L442.2,302.08 L443.2,300.76 L444.2,299.42 L445.2,298.07 L446.2,296.70 L447.2,295.31 L448.2,293.91 L449.2,292.50 L450.2,291.06 L451.2,289.61 L452.2,288.15 L453.2,286.67 L454.2,285.17 L455.2,283.66 L456.2,282.13 L457.2,280.59 L458.2,279.03 L459.2,277.45 L460.2,275.86 L461.2,274.25 L462.2,272.63 L463.2,271.00 L464.2,269.35 L465.2,267.68 L466.2,266.00 L467.2,264.31 L468.2,262.60 L469.2,260.88 L470.2,259.14 L471.2,257.40 L472.2,255.64 L473.2,253.86 L474.2,252.08 L475.2,250.29 L476.2,248.48 L477.2,246.66 L478.2,244.84 L479.2,243.00 L480.2,241.15 L481.2,239.30 L482.2,237.44 L483.2,235.57 L484.2,233.69 L485.2,231.81 L486.2,229.93 L487.2,228.04 L488.2,226.14 L489.2,224.25 L490.2,222.35 L491.2,220.45 L492.2,218.55 L493.2,216.65 L494.2,214.75 L495.2,212.85 L496.2,210.96 L497.2,209.08 L498.2,207.19 L499.2,205.32 L500.2,203.45 L501.2,201.60 L502.2,199.75 L503.2,197.92 L504.2,196.10 L505.2,194.29 L506.2,192.50 L507.2,190.72 L508.2,188.97 L509.2,187.23 L510.2,185.51 L511.2,183.82 L512.2,182.15 L513.2,180.51 L514.2,178.89 L515.2,177.30 L516.2,175.74 L517.2,174.21 L518.2,172.71 L519.2,171.24 L520.2,169.82 L521.2,168.42 L522.2,167.07 L523.2,165.75 L524.2,164.48 L525.2,163.25 L526.2,162.06 L527.2,160.91 L528.2,159.82 L529.2,158.76 L530.2,157.76 L531.2,156.81 L532.2,155.90 L533.2,155.05 L534.2,154.25 L535.2,153.51 L536.2,152.82 L537.2,152.18 L538.2,151.60 L539.2,151.07 L540.2,150.61 L541.2,150.20 L542.2,149.85 L543.2,149.56 L544.2,149.32 L545.2,149.15 L546.2,149.03 L547.2,148.98 L548.2,148.99 L549.2,149.06 L550.2,149.21 L551.2,149.43 L552.2,149.71 L553.2,150.07 L554.2,150.49 L555.2,150.98 L556.2,151.54 L557.2,152.16 L558.2,152.85 L559.2,153.60 L560.2,154.41 L561.2,155.29 L562.2,156.23 L563.2,157.23 L564.2,158.28 L565.2,159.39 L566.2,160.56 L567.2,161.78 L568.2,163.05 L569.2,164.38 L570.2,165.75 L571.2,167.17 L572.2,168.63 L573.2,170.14 L574.2,171.69 L575.2,173.28 L576.2,174.91 L577.2,176.57 L578.2,178.27 L579.2,180.01 L580.2,181.77 L581.2,183.57 L582.2,185.39 L583.2,187.23 L584.2,189.10 L585.2,191.00 L586.2,192.91 L587.2,194.85 L588.2,196.80 L589.2,198.76 L590.2,200.74 L591.2,202.74 L592.2,204.74 L593.2,206.75 L594.2,208.78 L595.2,210.81 L596.2,212.84 L597.2,214.88 L598.2,216.92 L599.2,218.96 L600.2,221.01 L601.2,223.05 L602.2,225.09 L603.2,227.13 L604.2,229.17 L605.2,231.20 L606.2,233.22 L607.2,235.24 L608.2,237.25 L609.2,239.25 L610.2,241.25 L611.2,243.23 L612.2,245.20 L613.2,247.16 L614.2,249.11 L615.2,251.05 L616.2,252.98 L617.2,254.89 L618.2,256.79 L619.2,258.67 L620.2,260.54 L621.2,262.40 L622.2,264.24 L623.2,266.06 L624.2,267.87 L625.2,269.66 L626.2,271.44 L627.2,273.19 L628.2,274.94 L629.2,276.66 L630.2,278.37 L631.2,280.06 L632.2,281.73 L633.2,283.38 L634.2,285.02 L635.2,286.64 L636.2,288.24 L637.2,289.83 L638.2,291.39 L639.2,292.94 L640.2,294.47 L641.2,295.98 L642.2,297.47 L643.2,298.95 L644.2,300.41 L645.2,301.85 L646.2,303.27 L647.2,304.68 L648.2,306.07 L649.2,307.44 L650.2,308.79 L651.2,310.13 L652.2,311.45 L653.2,312.75 L654.2,314.04 L655.2,315.31 L656.2,316.56 L657.2,317.80 L658.2,319.02 L659.2,320.22 L660.2,321.41 L661.2,322.58 L662.2,323.73 L663.2,324.88 L664.2,326.00 L665.2,327.11 L666.2,328.21 L667.2,329.29 L668.2,330.35 L669.2,331.40 L670.2,332.44 L671.2,333.46 L672.2,334.47 L673.2,335.46 L674.2,336.44 L675.2,337.41 L676.2,338.36 L677.2,339.30 L678.2,340.23 L679.2,341.14 L680.2,342.04 L681.2,342.93" stroke="#548235"/>
<path d="M111.2,414.47 L112.2,414.31 L113.2,414.15 L114.2,413.98 L115.2,413.80 L116.2,413.63 L117.2,413.45 L118.2,413.26 L119.2,413.07 L120.2,412.88 L121.2,412.68 L122.2,412.47 L123.2,412.26 L124.2,412.05 L125.2,411.83 L126.2,411.60 L127.2,411.37 L128.2,411.13 L129.2,410.89 L130.2,410.64 L131.2,410.38 L132.2,410.12 L133.2,409.85 L134.2,409.57 L135.2,409.28 L136.2,408.99 L137.2,408.69 L138.2,408.38 L139.2,408.06 L140.2,407.73 L141.2,407.39 L142.2,407.04 L143.2,406.68 L144.2,406.31 L145.2,405.93 L146.2,405.54 L147.2,405.14 L148.2,404.72 L149.2,404.29 L150.2,403.85 L151.2,403.39 L152.2,402.92 L153.2,402.43 L154.2,401.93 L155.2,401.41 L156.2,400.87 L157.2,400.32 L158.2,399.75 L159.2,399.15 L160.2,398.54 L161.2,397.90 L162.2,397.24 L163.2,396.56 L164.2,395.85 L165.2,395.12 L166.2,394.36 L167.2,393.57 L168.2,392.75 L169.2,391.90 L170.2,391.02 L171.2,390.10 L172.2,389.15 L173.2,388.16 L174.2,387.13 L175.2,386.06 L176.2,384.94 L177.2,383.78 L178.2,382.57 L179.2,381.31 L180.2,380.00 L181.2,378.63 L182.2,377.20 L183.2,375.70 L184.2,374.15 L185.2,372.52 L186.2,370.83 L187.2,369.06 L188.2,367.20 L189.2,365.27 L190.2,363.25 L191.2,361.13 L192.2,358.92 L193.2,356.61 L194.2,354.20 L195.2,351.68 L196.2,349.04 L197.2,346.28 L198.2,343.41 L199.2,340.40 L200.2,337.26 L201.2,333.99 L202.2,330.59 L203.2,327.04 L204.2,323.35 L205.2,319.52 L206.2,315.55 L207.2,311.44 L208.2,307.19 L209.2,302.82 L210.2,298.32 L211.2,293.72 L212.2,289.02 L213.2,284.25 L214.2,279.42 L215.2,274.56 L216.2,269.69 L217.2,264.86 L218.2,260.11 L219.2,255.46 L220.2,250.97 L221.2,246.68 L222.2,242.65 L223.2,238.92 L224.2,235.55 L225.2,232.58 L226.2,230.05 L227.2,228.00 L228.2,226.48 L229.2,225.49 L230.2,225.07 L231.2,225.22 L232.2,226.00 L233.2,227.38 L234.2,229.33 L235.2,231.82 L236.2,234.80 L237.2,238.23 L238.2,242.04 L239.2,246.17 L240.2,250.58 L241.2,255.19 L242.2,259.97 L243.2,264.84 L244.2,269.78 L245.2,274.74 L246.2,279.68 L247.2,284.56 L248.2,289.37 L249.2,294.08 L250.2,298.68 L251.2,303.14 L252.2,307.46 L253.2,311.63 L254.2,315.65 L255.2,319.51 L256.2,323.21 L257.2,326.76 L258.2,330.15 L259.2,333.39 L260.2,336.48 L261.2,339.43 L262.2,342.24 L263.2,344.91 L264.2,347.46 L265.2,349.88 L266.2,352.18 L267.2,354.36 L268.2,356.44 L269.2,358.42 L270.2,360.29 L271.2,362.08 L272.2,363.77 L273.2,365.38 L274.2,366.91 L275.2,368.36 L276.2,369.74 L277.2,371.05 L278.2,372.29 L279.2,373.47 L280.2,374.59 L281.2,375.65 L282.2,376.66 L283.2,377.62 L284.2,378.53 L285.2,379.40 L286.2,380.22 L287.2,380.99 L288.2,381.73 L289.2,382.43 L290.2,383.09 L291.2,383.72 L292.2,384.32 L293.2,384.88 L294.2,385.41 L295.2,385.91 L296.2,386.39 L297.2,386.84 L298.2,387.26 L299.2,387.66 L300.2,388.03 L301.2,388.38 L302.2,388.71 L303.2,389.02 L304.2,389.31 L305.2,389.58 L306.2,389.83 L307.2,390.06 L308.2,390.27 L309.2,390.47 L310.2,390.65 L311.2,390.81 L312.2,390.96 L313.2,391.10 L314.2,391.22 L315.2,391.32 L316.2,391.41 L317.2,391.49 L318.2,391.56 L319.2,391.61 L320.2,391.65 L321.2,391.68 L322.2,391.69 L323.2,391.70 L324.2,391.69 L325.2,391.67 L326.2,391.64 L327.2,391.60 L328.2,391.55 L329.2,391.49 L330.2,391.42 L331.2,391.34 L332.2,391.25 L333.2,391.15 L334.2,391.05 L335.2,390.93 L336.2,390.80 L337.2,390.66 L338.2,390.52 L339.2,390.36 L340.2,390.20 L341.2,390.02 L342.2,389.84 L343.2,389.65 L344.2,389.45 L345.2,389.24 L346.2,389.03 L347.2,388.80 L348.2,388.57 L349.2,388.33 L350.2,388.08 L351.2,387.82 L352.2,387.55 L353.2,387.28 L354.2,387.00 L355.2,386.70 L356.2,386.41 L357.2,386.10 L358.2,385.78 L359.2,385.46 L360.2,385.12 L361.2,384.78 L362.2,384.44 L363.2,384.08 L364.2,383.71 L365.2,383.34 L366.2,382.96 L367.2,382.57 L368.2,382.17 L369.2,381.76 L370.2,381.35 L371.2,380.93 L372.2,380.50 L373.2,380.06 L374.2,379.61 L375.2,379.16 L376.2,378.70 L377.2,378.22 L378.2,377.75 L379.2,377.26 L380.2,376.76 L381.2,376.26 L382.2,375.75 L383.2,375.23 L384.2,374.71 L385.2,374.17 L386.2,373.63 L387.2,373.08 L388.2,372.52 L389.2,371.96 L390.2,371.39 L391.2,370.81 L392.2,370.22 L393.2,369.63 L394.2,369.03 L395.2,368.42 L396.2,367.81 L397.2,367.19 L398.2,366.56 L399.2,365.93 L400.2,365.29 L401.2,364.65 L402.2,364.00 L403.2,363.34 L404.2,362.68 L405.2,362.02 L406.2,361.35 L407.2,360.68 L408.2,360.00 L409.2,359.32 L410.2,358.64 L411.2,357.95 L412.2,357.26 L413.2,356.57 L414.2,355.88 L415.2,355.19 L416.2,354.50 L417.2,353.80 L418.2,353.11 L419.2,352.41 L420.2,351.72 L421.2,351.03 L422.2,350.35 L423.2,349.66 L424.2,348.98 L425.2,348.31 L426.2,347.63 L427.2,346.97 L428.2,346.31 L429.2,345.66 L430.2,345.01 L431.2,344.37 L432.2,343.74 L433.2,343.13 L434.2,342.52 L435.2,341.92 L436.2,341.33 L437.2,340.76 L438.2,340.20 L439.2,339.66 L440.2,339.12 L441.2,338.61 L442.2,338.11 L443.2,337.63 L444.2,337.16 L445.2,336.71 L446.2,336.29 L447.2,335.88 L448.2,335.49 L449.2,335.12 L450.2,334.78 L451.2,334.45 L452.2,334.15 L453.2,333.87 L454.2,333.62 L455.2,333.38 L456.2,333.18 L457.2,332.99 L458.2,332.84 L459.2,332.70 L460.2,332.60 L461.2,332.52 L462.2,332.46 L463.2,332.43 L464.2,332.43 L465.2,332.45 L466.2,332.51 L467.2,332.60 L468.2,332.72 L469.2,332.88 L470.2,333.06 L471.2,333.28 L472.2,333.53 L473.2,333.81 L474.2,334.12 L475.2,334.45 L476.2,334.82 L477.2,335.21 L478.2,335.64 L479.2,336.08 L480.2,336.56 L481.2,337.06 L482.2,337.58 L483.2,338.13 L484.2,338.69 L485.2,339.28 L486.2,339.89 L487.2,340.52 L488.2,341.17 L489.2,341.83 L490.2,342.52 L491.2,343.21 L492.2,343.92 L493.2,344.65 L494.2,345.38 L495.2,346.13 L496.2,346.89 L497.2,347.66 L498.2,348.43 L499.2,349.22 L500.2,350.01 L501.2,350.80 L502.2,351.61 L503.2,352.41 L504.2,353.22 L505.2,354.03 L506.2,354.85 L507.2,355.66 L508.2,356.48 L509.2,357.30 L510.2,358.11 L511.2,358.92 L512.2,359.74 L513.2,360.55 L514.2,361.35 L515.2,362.16 L516.2,362.96 L517.2,363.76 L518.2,364.55 L519.2,365.33 L520.2,366.12 L521.2,366.89 L522.2,367.66 L523.2,368.42 L524.2,369.18 L525.2,369.93 L526.2,370.68 L527.2,371.41 L528.2,372.14 L529.2,372.86 L530.2,373.58 L531.2,374.28 L532.2,374.98 L533.2,375.67 L534.2,376.36 L535.2,377.03 L536.2,377.70 L537.2,378.35 L538.2,379.00 L539.2,379.65 L540.2,380.28 L541.2,380.90 L542.2,381.52 L543.2,382.13 L544.2,382.73 L545.2,383.32 L546.2,383.91 L547.2,384.48 L548.2,385.05 L549.2,385.61 L550.2,386.16 L551.2,386.70 L552.2,387.24 L553.2,387.77 L554.2,388.28 L555.2,388.80 L556.2,389.30 L557.2,389.80 L558.2,390.29 L559.2,390.77 L560.2,391.24 L561.2,391.71 L562.2,392.17 L563.2,392.62 L564.2,393.07 L565.2,393.51 L566.2,393.94 L567.2,394.37 L568.2,394.79 L569.2,395.20 L570.2,395.61 L571.2,396.01 L572.2,396.40 L573.2,396.79 L574.2,397.17 L575.2,397.54 L576.2,397.91 L577.2,398.28 L578.2,398.64 L579.2,398.99 L580.2,399.34 L581.2,399.68 L582.2,400.01 L583.2,400.34 L584.2,400.67 L585.2,400.99 L586.2,401.30 L587.2,401.62 L588.2,401.92 L589.2,402.22 L590.2,402.52 L591.2,402.81 L592.2,403.10 L593.2,403.38 L594.2,403.66 L595.2,403.93 L596.2,404.20 L597.2,404.46 L598.2,404.73 L599.2,404.98 L600.2,405.24 L601.2,405.48 L602.2,405.73 L603.2,405.97 L604.2,406.21 L605.2,406.44 L606.2,406.67 L607.2,406.90 L608.2,407.12 L609.2,407.34 L610.2,407.56 L611.2,407.77 L612.2,407.98 L613.2,408.19 L614.2,408.39 L615.2,408.59 L616.2,408.79 L617.2,408.99 L618.2,409.18 L619.2,409.37 L620.2,409.55 L621.2,409.74 L622.2,409.92 L623.2,410.09 L624.2,410.27 L625.2,410.44 L626.2,410.61 L627.2,410.78 L628.2,410.94 L629.2,411.10 L630.2,411.26 L631.2,411.42 L632.2,411.58 L633.2,411.73 L634.2,411.88 L635.2,412.03 L636.2,412.18 L637.2,412.32 L638.2,412.46 L639.2,412.60 L640.2,412.74 L641.2,412.87 L642.2,413.01 L643.2,413.14 L644.2,413.27 L645.2,413.40 L646.2,413.52 L647.2,413.65 L648.2,413.77 L649.2,413.89 L650.2,414.01 L651.2,414.13 L652.2,414.24 L653.2,414.36 L654.2,414.47 L655.2,414.58 L656.2,414.69 L657.2,414.80 L658.2,414.90 L659.2,415.01 L660.2,415.11 L661.2,415.21 L662.2,415.31 L663.2,415.41 L664.2,415.51 L665.2,415.61 L666.2,415.70 L667.2,415.79 L668.2,415.89 L669.2,415.98 L670.2,416.07 L671.2,416.15 L672.2,416.24 L673.2,416.33 L674.2,416.41 L675.2,416.49 L676.2,416.58 L677.2,416.66 L678.2,416.74 L679.2,416.81 L680.2,416.89 L681.2,416.97" stroke="#0070C0"/>
<path d="M111.2,398.87 L112.2,398.62 L113.2,398.36 L114.2,398.10 L115.2,397.83 L116.2,397.56 L117.2,397.28 L118.2,397.00 L119.2,396.71 L120.2,396.41 L121.2,396.11 L122.2,395.80 L123.2,395.48 L124.2,395.15 L125.2,394.82 L126.2,394.48 L127.2,394.14 L128.2,393.78 L129.2,393.42 L130.2,393.05 L131.2,392.67 L132.2,392.28 L133.2,391.88 L134.2,391.48 L135.2,391.06 L136.2,390.63 L137.2,390.19 L138.2,389.74 L139.2,389.28 L140.2,388.81 L141.2,388.32 L142.2,387.83 L143.2,387.32 L144.2,386.79 L145.2,386.25 L146.2,385.70 L147.2,385.13 L148.2,384.55 L149.2,383.95 L150.2,383.34 L151.2,382.71 L152.2,382.05 L153.2,381.39 L154.2,380.70 L155.2,379.99 L156.2,379.26 L157.2,378.51 L158.2,377.73 L159.2,376.94 L160.2,376.11 L161.2,375.27 L162.2,374.39 L163.2,373.49 L164.2,372.57 L165.2,371.61 L166.2,370.62 L167.2,369.60 L168.2,368.54 L169.2,367.45 L170.2,366.32 L171.2,365.16 L172.2,363.96 L173.2,362.71 L174.2,361.42 L175.2,360.09 L176.2,358.71 L177.2,357.29 L178.2,355.81 L179.2,354.28 L180.2,352.70 L181.2,351.05 L182.2,349.35 L183.2,347.59 L184.2,345.76 L185.2,343.87 L186.2,341.91 L187.2,339.87 L188.2,337.77 L189.2,335.58 L190.2,333.31 L191.2,330.96 L192.2,328.53 L193.2,326.00 L194.2,323.39 L195.2,320.68 L196.2,317.88 L197.2,314.98 L198.2,311.98 L199.2,308.87 L200.2,305.67 L201.2,302.36 L202.2,298.94 L203.2,295.43 L204.2,291.81 L205.2,288.09 L206.2,284.27 L207.2,280.36 L208.2,276.36 L209.2,272.28 L210.2,268.13 L211.2,263.91 L212.2,259.64 L213.2,255.34 L214.2,251.01 L215.2,246.67 L216.2,242.35 L217.2,238.07 L218.2,233.85 L219.2,229.71 L220.2,225.68 L221.2,221.80 L222.2,218.09 L223.2,214.58 L224.2,211.30 L225.2,208.29 L226.2,205.57 L227.2,203.16 L228.2,201.10 L229.2,199.40 L230.2,198.08 L231.2,197.16 L232.2,196.64 L233.2,196.52 L234.2,196.79 L235.2,197.44 L236.2,198.45 L237.2,199.82 L238.2,201.52 L239.2,203.55 L240.2,205.87 L241.2,208.46 L242.2,211.30 L243.2,214.35 L244.2,217.60 L245.2,221.01 L246.2,224.55 L247.2,228.21 L248.2,231.95 L249.2,235.75 L250.2,239.59 L251.2,243.45 L252.2,247.32 L253.2,251.16 L254.2,254.98 L255.2,258.75 L256.2,262.47 L257.2,266.12 L258.2,269.70 L259.2,273.20 L260.2,276.62 L261.2,279.94 L262.2,283.17 L263.2,286.31 L264.2,289.35 L265.2,292.29 L266.2,295.14 L267.2,297.88 L268.2,300.53 L269.2,303.08 L270.2,305.54 L271.2,307.91 L272.2,310.18 L273.2,312.37 L274.2,314.47 L275.2,316.49 L276.2,318.42 L277.2,320.28 L278.2,322.06 L279.2,323.76 L280.2,325.39 L281.2,326.95 L282.2,328.45 L283.2,329.88 L284.2,331.25 L285.2,332.56 L286.2,333.81 L287.2,335.00 L288.2,336.14 L289.2,337.23 L290.2,338.27 L291.2,339.26 L292.2,340.20 L293.2,341.10 L294.2,341.96 L295.2,342.77 L296.2,343.55 L297.2,344.28 L298.2,344.98 L299.2,345.65 L300.2,346.27 L301.2,346.87 L302.2,347.43 L303.2,347.96 L304.2,348.47 L305.2,348.94 L306.2,349.39 L307.2,349.80 L308.2,350.20 L309.2,350.56 L310.2,350.91 L311.2,351.22 L312.2,351.52 L313.2,351.79 L314.2,352.05 L315.2,352.28 L316.2,352.49 L317.2,352.68 L318.2,352.85 L319.2,353.00 L320.2,353.14 L321.2,353.26 L322.2,353.36 L323.2,353.44 L324.2,353.51 L325.2,353.56 L326.2,353.60 L327.2,353.62 L328.2,353.63 L329.2,353.62 L330.2,353.60 L331.2,353.56 L332.2,353.52 L333.2,353.45 L334.2,353.38 L335.2,353.29 L336.2,353.19 L337.2,353.08 L338.2,352.96 L339.2,352.82 L340.2,352.68 L341.2,352.52 L342.2,352.35 L343.2,352.17 L344.2,351.98 L345.2,351.78 L346.2,351.57 L347.2,351.35 L348.2,351.12 L349.2,350.88 L350.2,350.63 L351.2,350.37 L352.2,350.10 L353.2,349.82 L354.2,349.53 L355.2,349.23 L356.2,348.93 L357.2,348.61 L358.2,348.29 L359.2,347.95 L360.2,347.61 L361.2,347.26 L362.2,346.90 L363.2,346.54 L364.2,346.16 L365.2,345.78 L366.2,345.38 L367.2,344.98 L368.2,344.57 L369.2,344.16 L370.2,343.73 L371.2,343.30 L372.2,342.86 L373.2,342.41 L374.2,341.96 L375.2,341.49 L376.2,341.02 L377.2,340.54 L378.2,340.05 L379.2,339.56 L380.2,339.06 L381.2,338.55 L382.2,338.03 L383.2,337.51 L384.2,336.98 L385.2,336.44 L386.2,335.89 L387.2,335.34 L388.2,334.78 L389.2,334.21 L390.2,333.64 L391.2,333.06 L392.2,332.47 L393.2,331.87 L394.2,331.27 L395.2,330.66 L396.2,330.05 L397.2,329.43 L398.2,328.80 L399.2,328.16 L400.2,327.52 L401.2,326.87 L402.2,326.21 L403.2,325.55 L404.2,324.88 L405.2,324.21 L406.2,323.53 L407.2,322.84 L408.2,322.15 L409.2,321.45 L410.2,320.74 L411.2,320.03 L412.2,319.31 L413.2,318.59 L414.2,317.86 L415.2,317.13 L416.2,316.39 L417.2,315.64 L418.2,314.89 L419.2,314.14 L420.2,313.38 L421.2,312.61 L422.2,311.84 L423.2,311.06 L424.2,310.28 L425.2,309.50 L426.2,308.71 L427.2,307.91 L428.2,307.12 L429.2,306.31 L430.2,305.51 L431.2,304.70 L432.2,303.89 L433.2,303.07 L434.2,302.25 L435.2,301.43 L436.2,300.60 L437.2,299.77 L438.2,298.94 L439.2,298.10 L440.2,297.27 L441.2,296.43 L442.2,295.59 L443.2,294.75 L444.2,293.90 L445.2,293.06 L446.2,292.21 L447.2,291.37 L448.2,290.52 L449.2,289.67 L450.2,288.83 L451.2,287.98 L452.2,287.13 L453.2,286.29 L454.2,285.44 L455.2,284.60 L456.2,283.76 L457.2,282.92 L458.2,282.08 L459.2,281.25 L460.2,280.41 L461.2,279.58 L462.2,278.76 L463.2,277.94 L464.2,277.12 L465.2,276.30 L466.2,275.49 L467.2,274.69 L468.2,273.89 L469.2,273.10 L470.2,272.31 L471.2,271.53 L472.2,270.76 L473.2,269.99 L474.2,269.23 L475.2,268.48 L476.2,267.73 L477.2,267.00 L478.2,266.27 L479.2,265.55 L480.2,264.85 L481.2,264.15 L482.2,263.46 L483.2,262.78 L484.2,262.12 L485.2,261.46 L486.2,260.82 L487.2,260.19 L488.2,259.57 L489.2,258.97 L490.2,258.38 L491.2,257.80 L492.2,257.23 L493.2,256.68 L494.2,256.15 L495.2,255.63 L496.2,255.12 L497.2,254.63 L498.2,254.16 L499.2,253.70 L500.2,253.26 L501.2,252.83 L502.2,252.43 L503.2,252.03 L504.2,251.66 L505.2,251.31 L506.2,250.97 L507.2,250.65 L508.2,250.35 L509.2,250.07 L510.2,249.80 L511.2,249.56 L512.2,249.34 L513.2,249.13 L514.2,248.95 L515.2,248.78 L516.2,248.63 L517.2,248.51 L518.2,248.40 L519.2,248.32 L520.2,248.25 L521.2,248.20 L522.2,248.18 L523.2,248.17 L524.2,248.19 L525.2,248.23 L526.2,248.28 L527.2,248.36 L528.2,248.46 L529.2,248.58 L530.2,248.72 L531.2,248.88 L532.2,249.06 L533.2,249.26 L534.2,249.48 L535.2,249.73 L536.2,249.99 L537.2,250.27 L538.2,250.57 L539.2,250.89 L540.2,251.23 L541.2,251.59 L542.2,251.96 L543.2,252.36 L544.2,252.77 L545.2,253.21 L546.2,253.66 L547.2,254.12 L548.2,254.61 L549.2,255.11 L550.2,255.63 L551.2,256.16 L552.2,256.71 L553.2,257.28 L554.2,257.86 L555.2,258.45 L556.2,259.06 L557.2,259.69 L558.2,260.33 L559.2,260.98 L560.2,261.64 L561.2,262.32 L562.2,263.01 L563.2,263.72 L564.2,264.43 L565.2,265.16 L566.2,265.90 L567.2,266.64 L568.2,267.40 L569.2,268.17 L570.2,268.95 L571.2,269.73 L572.2,270.53 L573.2,271.33 L574.2,272.15 L575.2,272.97 L576.2,273.79 L577.2,274.63 L578.2,275.47 L579.2,276.32 L580.2,277.17 L581.2,278.03 L582.2,278.89 L583.2,279.76 L584.2,280.64 L585.2,281.51 L586.2,282.40 L587.2,283.28 L588.2,284.17 L589.2,285.06 L590.2,285.96 L591.2,286.85 L592.2,287.75 L593.2,288.65 L594.2,289.56 L595.2,290.46 L596.2,291.37 L597.2,292.27 L598.2,293.18 L599.2,294.08 L600.2,294.99 L601.2,295.90 L602.2,296.80 L603.2,297.71 L604.2,298.61 L605.2,299.52 L606.2,300.42 L607.2,301.32 L608.2,302.22 L609.2,303.12 L610.2,304.01 L611.2,304.91 L612.2,305.80 L613.2,306.69 L614.2,307.57 L615.2,308.46 L616.2,309.34 L617.2,310.21 L618.2,311.09 L619.2,311.96 L620.2,312.82 L621.2,313.69 L622.2,314.55 L623.2,315.40 L624.2,316.25 L625.2,317.10 L626.2,317.94 L627.2,318.78 L628.2,319.62 L629.2,320.45 L630.2,321.28 L631.2,322.10 L632.2,322.91 L633.2,323.73 L634.2,324.53 L635.2,325.34 L636.2,326.13 L637.2,326.93 L638.2,327.71 L639.2,328.50 L640.2,329.27 L641.2,330.05 L642.2,330.81 L643.2,331.58 L644.2,332.33 L645.2,333.09 L646.2,333.83 L647.2,334.57 L648.2,335.31 L649.2,336.04 L650.2,336.77 L651.2,337.49 L652.2,338.20 L653.2,338.91 L654.2,339.61 L655.2,340.31 L656.2,341.01 L657.2,341.69 L658.2,342.38 L659.2,343.05 L660.2,343.73 L661.2,344.39 L662.2,345.05 L663.2,345.71 L664.2,346.36 L665.2,347.01 L666.2,347.65 L667.2,348.28 L668.2,348.91 L669.2,349.53 L670.2,350.15 L671.2,350.77 L672.2,351.38 L673.2,351.98 L674.2,352.58 L675.2,353.17 L676.2,353.76 L677.2,354.34 L678.2,354.92 L679.2,355.49 L680.2,356.06 L681.2,356.62" stroke="#203864"/>
<path d="M111.2,393.75 L112.2,393.29 L113.2,392.83 L114.2,392.35 L115.2,391.86 L116.2,391.37 L117.2,390.86 L118.2,390.34 L119.2,389.81 L120.2,389.27 L121.2,388.71 L122.2,388.15 L123.2,387.57 L124.2,386.98 L125.2,386.37 L126.2,385.75 L127.2,385.12 L128.2,384.47 L129.2,383.81 L130.2,383.13 L131.2,382.44 L132.2,381.73 L133.2,381.01 L134.2,380.26 L135.2,379.50 L136.2,378.73 L137.2,377.93 L138.2,377.11 L139.2,376.28 L140.2,375.42 L141.2,374.55 L142.2,373.65 L143.2,372.73 L144.2,371.79 L145.2,370.82 L146.2,369.84 L147.2,368.82 L148.2,367.79 L149.2,366.73 L150.2,365.64 L151.2,364.52 L152.2,363.38 L153.2,362.20 L154.2,361.00 L155.2,359.77 L156.2,358.51 L157.2,357.22 L158.2,355.89 L159.2,354.54 L160.2,353.14 L161.2,351.72 L162.2,350.26 L163.2,348.76 L164.2,347.23 L165.2,345.66 L166.2,344.05 L167.2,342.40 L168.2,340.71 L169.2,338.98 L170.2,337.22 L171.2,335.41 L172.2,333.56 L173.2,331.66 L174.2,329.73 L175.2,327.75 L176.2,325.73 L177.2,323.66 L178.2,321.56 L179.2,319.40 L180.2,317.21 L181.2,314.97 L182.2,312.70 L183.2,310.38 L184.2,308.02 L185.2,305.62 L186.2,303.18 L187.2,300.71 L188.2,298.21 L189.2,295.67 L190.2,293.10 L191.2,290.50 L192.2,287.88 L193.2,285.24 L194.2,282.59 L195.2,279.92 L196.2,277.24 L197.2,274.56 L198.2,271.88 L199.2,269.21 L200.2,266.55 L201.2,263.91 L202.2,261.30 L203.2,258.72 L204.2,256.18 L205.2,253.70 L206.2,251.26 L207.2,248.90 L208.2,246.60 L209.2,244.39 L210.2,242.27 L211.2,240.24 L212.2,238.32 L213.2,236.52 L214.2,234.84 L215.2,233.29 L216.2,231.87 L217.2,230.60 L218.2,229.48 L219.2,228.52 L220.2,227.71 L221.2,227.07 L222.2,226.59 L223.2,226.28 L224.2,226.14 L225.2,226.17 L226.2,226.36 L227.2,226.72 L228.2,227.23 L229.2,227.90 L230.2,228.72 L231.2,229.69 L232.2,230.81 L233.2,232.06 L234.2,233.45 L235.2,234.96 L236.2,236.59 L237.2,238.33 L238.2,240.17 L239.2,242.11 L240.2,244.13 L241.2,246.24 L242.2,248.42 L243.2,250.66 L244.2,252.96 L245.2,255.30 L246.2,257.69 L247.2,260.11 L248.2,262.56 L249.2,265.03 L250.2,267.52 L251.2,270.01 L252.2,272.51 L253.2,275.01 L254.2,277.50 L255.2,279.98 L256.2,282.45 L257.2,284.89 L258.2,287.32 L259.2,289.72 L260.2,292.09 L261.2,294.43 L262.2,296.74 L263.2,299.02 L264.2,301.26 L265.2,303.46 L266.2,305.63 L267.2,307.75 L268.2,309.84 L269.2,311.88 L270.2,313.88 L271.2,315.84 L272.2,317.76 L273.2,319.63 L274.2,321.46 L275.2,323.25 L276.2,325.00 L277.2,326.71 L278.2,328.37 L279.2,330.00 L280.2,331.58 L281.2,333.12 L282.2,334.62 L283.2,336.09 L284.2,337.51 L285.2,338.90 L286.2,340.25 L287.2,341.56 L288.2,342.84 L289.2,344.08 L290.2,345.29 L291.2,346.46 L292.2,347.60 L293.2,348.71 L294.2,349.79 L295.2,350.83 L296.2,351.84 L297.2,352.83 L298.2,353.78 L299.2,354.71 L300.2,355.61 L301.2,356.48 L302.2,357.33 L303.2,358.14 L304.2,358.94 L305.2,359.71 L306.2,360.45 L307.2,361.17 L308.2,361.87 L309.2,362.54 L310.2,363.19 L311.2,363.82 L312.2,364.43 L313.2,365.02 L314.2,365.58 L315.2,366.13 L316.2,366.66 L317.2,367.16 L318.2,367.65 L319.2,368.12 L320.2,368.58 L321.2,369.01 L322.2,369.43 L323.2,369.83 L324.2,370.21 L325.2,370.58 L326.2,370.93 L327.2,371.27 L328.2,371.59 L329.2,371.89 L330.2,372.18 L331.2,372.46 L332.2,372.72 L333.2,372.96 L334.2,373.19 L335.2,373.41 L336.2,373.61 L337.2,373.80 L338.2,373.98 L339.2,374.14 L340.2,374.29 L341.2,374.43 L342.2,374.56 L343.2,374.67 L344.2,374.77 L345.2,374.85 L346.2,374.93 L347.2,374.99 L348.2,375.04 L349.2,375.07 L350.2,375.10 L351.2,375.11 L352.2,375.11 L353.2,375.10 L354.2,375.08 L355.2,375.04 L356.2,374.99 L357.2,374.94 L358.2,374.87 L359.2,374.78 L360.2,374.69 L361.2,374.58 L362.2,374.47 L363.2,374.34 L364.2,374.19 L365.2,374.04 L366.2,373.87 L367.2,373.70 L368.2,373.51 L369.2,373.30 L370.2,373.09 L371.2,372.86 L372.2,372.62 L373.2,372.37 L374.2,372.11 L375.2,371.83 L376.2,371.54 L377.2,371.23 L378.2,370.92 L379.2,370.59 L380.2,370.24 L381.2,369.89 L382.2,369.52 L383.2,369.13 L384.2,368.73 L385.2,368.32 L386.2,367.89 L387.2,367.45 L388.2,366.99 L389.2,366.51 L390.2,366.02 L391.2,365.52 L392.2,365.00 L393.2,364.46 L394.2,363.90 L395.2,363.33 L396.2,362.74 L397.2,362.14 L398.2,361.51 L399.2,360.87 L400.2,360.21 L401.2,359.53 L402.2,358.82 L403.2,358.10 L404.2,357.36 L405.2,356.60 L406.2,355.82 L407.2,355.01 L408.2,354.19 L409.2,353.34 L410.2,352.47 L411.2,351.57 L412.2,350.65 L413.2,349.70 L414.2,348.73 L415.2,347.74 L416.2,346.71 L417.2,345.66 L418.2,344.58 L419.2,343.47 L420.2,342.34 L421.2,341.17 L422.2,339.97 L423.2,338.74 L424.2,337.48 L425.2,336.18 L426.2,334.85 L427.2,333.49 L428.2,332.09 L429.2,330.65 L430.2,329.18 L431.2,327.67 L432.2,326.11 L433.2,324.52 L434.2,322.88 L435.2,321.21 L436.2,319.49 L437.2,317.72 L438.2,315.91 L439.2,314.05 L440.2,312.14 L441.2,310.18 L442.2,308.18 L443.2,306.12 L444.2,304.00 L445.2,301.84 L446.2,299.61 L447.2,297.33 L448.2,295.00 L449.2,292.60 L450.2,290.14 L451.2,287.62 L452.2,285.04 L453.2,282.39 L454.2,279.68 L455.2,276.90 L456.2,274.05 L457.2,271.13 L458.2,268.15 L459.2,265.09 L460.2,261.95 L461.2,258.75 L462.2,255.47 L463.2,252.12 L464.2,248.69 L465.2,245.18 L466.2,241.60 L467.2,237.95 L468.2,234.22 L469.2,230.41 L470.2,226.52 L471.2,222.56 L472.2,218.53 L473.2,214.43 L474.2,210.25 L475.2,206.01 L476.2,201.70 L477.2,197.32 L478.2,192.89 L479.2,188.39 L480.2,183.85 L481.2,179.25 L482.2,174.61 L483.2,169.94 L484.2,165.23 L485.2,160.50 L486.2,155.75 L487.2,150.99 L488.2,146.23 L489.2,141.47 L490.2,136.74 L491.2,132.03 L492.2,127.37 L493.2,122.75 L494.2,118.20 L495.2,113.73 L496.2,109.35 L497.2,105.07 L498.2,100.90 L499.2,96.87 L500.2,92.99 L501.2,89.26 L502.2,85.71 L503.2,82.35 L504.2,79.19 L505.2,76.25 L506.2,73.53 L507.2,71.06 L508.2,68.84 L509.2,66.88 L510.2,65.19 L511.2,63.79 L512.2,62.67 L513.2,61.84 L514.2,61.31 L515.2,61.08 L516.2,61.15 L517.2,61.52 L518.2,62.18 L519.2,63.12 L520.2,64.35 L521.2,65.86 L522.2,67.64 L523.2,69.69 L524.2,71.99 L525.2,74.53 L526.2,77.31 L527.2,80.31 L528.2,83.52 L529.2,86.93 L530.2,90.52 L531.2,94.28 L532.2,98.19 L533.2,102.25 L534.2,106.43 L535.2,110.73 L536.2,115.13 L537.2,119.62 L538.2,124.18 L539.2,128.81 L540.2,133.48 L541.2,138.20 L542.2,142.95 L543.2,147.71 L544.2,152.48 L545.2,157.26 L546.2,162.02 L547.2,166.77 L548.2,171.50 L549.2,176.20 L550.2,180.86 L551.2,185.48 L552.2,190.05 L553.2,194.58 L554.2,199.05 L555.2,203.46 L556.2,207.81 L557.2,212.09 L558.2,216.31 L559.2,220.46 L560.2,224.54 L561.2,228.55 L562.2,232.49 L563.2,236.36 L564.2,240.15 L565.2,243.86 L566.2,247.51 L567.2,251.08 L568.2,254.58 L569.2,258.00 L570.2,261.35 L571.2,264.63 L572.2,267.84 L573.2,270.98 L574.2,274.04 L575.2,277.04 L576.2,279.98 L577.2,282.84 L578.2,285.64 L579.2,288.38 L580.2,291.05 L581.2,293.66 L582.2,296.21 L583.2,298.71 L584.2,301.14 L585.2,303.52 L586.2,305.84 L587.2,308.11 L588.2,310.32 L589.2,312.49 L590.2,314.60 L591.2,316.66 L592.2,318.68 L593.2,320.65 L594.2,322.57 L595.2,324.45 L596.2,326.28 L597.2,328.07 L598.2,329.82 L599.2,331.53 L600.2,333.20 L601.2,334.83 L602.2,336.43 L603.2,337.99 L604.2,339.51 L605.2,341.00 L606.2,342.45 L607.2,343.87 L608.2,345.26 L609.2,346.62 L610.2,347.95 L611.2,349.25 L612.2,350.52 L613.2,351.76 L614.2,352.98 L615.2,354.17 L616.2,355.33 L617.2,356.47 L618.2,357.58 L619.2,358.67 L620.2,359.73 L621.2,360.78 L622.2,361.80 L623.2,362.80 L624.2,363.78 L625.2,364.73 L626.2,365.67 L627.2,366.59 L628.2,367.49 L629.2,368.37 L630.2,369.24 L631.2,370.08 L632.2,370.91 L633.2,371.72 L634.2,372.52 L635.2,373.30 L636.2,374.06 L637.2,374.81 L638.2,375.55 L639.2,376.27 L640.2,376.97 L641.2,377.67 L642.2,378.34 L643.2,379.01 L644.2,379.66 L645.2,380.31 L646.2,380.93 L647.2,381.55 L648.2,382.16 L649.2,382.75 L650.2,383.33 L651.2,383.91 L652.2,384.47 L653.2,385.02 L654.2,385.56 L655.2,386.09 L656.2,386.62 L657.2,387.13 L658.2,387.63 L659.2,388.13 L660.2,388.62 L661.2,389.09 L662.2,389.56 L663.2,390.02 L664.2,390.48 L665.2,390.92 L666.2,391.36 L667.2,391.79 L668.2,392.21 L669.2,392.63 L670.2,393.04 L671.2,393.44 L672.2,393.83 L673.2,394.22 L674.2,394.60 L675.2,394.98 L676.2,395.35 L677.2,395.71 L678.2,396.07 L679.2,396.42 L680.2,396.77 L681.2,397.11" stroke="#7030A0"/>
</g>
<g stroke="#000" stroke-width="3.2" fill="none" stroke-linecap="butt">
<rect x="113.2" y="17.6" width="566.8" height="410.9"/>
<line x1="102.8" y1="428.5" x2="113.2" y2="428.5"/>
<line x1="102.8" y1="346.3" x2="113.2" y2="346.3"/>
<line x1="102.8" y1="264.1" x2="113.2" y2="264.1"/>
<line x1="102.8" y1="182.0" x2="113.2" y2="182.0"/>
<line x1="102.8" y1="99.8" x2="113.2" y2="99.8"/>
<line x1="102.8" y1="17.6" x2="113.2" y2="17.6"/>
<line x1="113.2" y1="428.5" x2="113.2" y2="438.4"/>
<line x1="254.9" y1="428.5" x2="254.9" y2="438.4"/>
<line x1="396.6" y1="428.5" x2="396.6" y2="438.4"/>
<line x1="538.3" y1="428.5" x2="538.3" y2="438.4"/>
<line x1="680.0" y1="428.5" x2="680.0" y2="438.4"/>
</g>
<g fill="#000">
<text x="83.2" y="438.8" font-size="33" text-anchor="end" font-family="'Liberation Sans', Arial, Helvetica, sans-serif" font-weight="normal" >0</text>
<text x="83.2" y="356.6" font-size="33" text-anchor="end" font-family="'Liberation Sans', Arial, Helvetica, sans-serif" font-weight="normal" >0.2</text>
<text x="83.2" y="274.4" font-size="33" text-anchor="end" font-family="'Liberation Sans', Arial, Helvetica, sans-serif" font-weight="normal" >0.4</text>
<text x="83.2" y="192.3" font-size="33" text-anchor="end" font-family="'Liberation Sans', Arial, Helvetica, sans-serif" font-weight="normal" >0.6</text>
<text x="83.2" y="110.1" font-size="33" text-anchor="end" font-family="'Liberation Sans', Arial, Helvetica, sans-serif" font-weight="normal" >0.8</text>
<text x="83.2" y="27.9" font-size="33" text-anchor="end" font-family="'Liberation Sans', Arial, Helvetica, sans-serif" font-weight="normal" >1</text>
<text x="113.2" y="479.4" font-size="33" text-anchor="middle" font-family="'Liberation Sans', Arial, Helvetica, sans-serif" font-weight="normal" >400</text>
<text x="254.9" y="479.4" font-size="33" text-anchor="middle" font-family="'Liberation Sans', Arial, Helvetica, sans-serif" font-weight="normal" >500</text>
<text x="396.6" y="479.4" font-size="33" text-anchor="middle" font-family="'Liberation Sans', Arial, Helvetica, sans-serif" font-weight="normal" >600</text>
<text x="538.3" y="479.4" font-size="33" text-anchor="middle" font-family="'Liberation Sans', Arial, Helvetica, sans-serif" font-weight="normal" >700</text>
<text x="680.0" y="479.4" font-size="33" text-anchor="middle" font-family="'Liberation Sans', Arial, Helvetica, sans-serif" font-weight="normal" >800</text>
<text transform="translate(311.73,511.82) scale(1.0154,1)" x="0" y="0" font-size="33.00" font-family="'Liberation Sans', Arial, sans-serif" font-weight="normal" font-style="normal" fill="#000">Wavelength</text>
<text transform="translate(32.07,313.29) rotate(-90) scale(1.0339,1)" x="0" y="0" font-size="32.52" font-family="'Liberation Sans', Arial, sans-serif" font-weight="normal" font-style="normal" fill="#000">Reflectance</text>
<text x="-1.8" y="44.1" font-size="48" text-anchor="start" font-family="'Liberation Sans', Arial, Helvetica, sans-serif" font-weight="normal" >(a)</text>
</g>
<g stroke="#A6A6A6" stroke-width="1.6">
<line x1="199.8" y1="809.0" x2="719.2" y2="809.0"/>
<line x1="199.8" y1="727.9" x2="719.2" y2="727.9"/>
<line x1="199.8" y1="646.9" x2="719.2" y2="646.9"/>
<line x1="199.8" y1="565.8" x2="719.2" y2="565.8"/>
</g>
<rect x="218.7" y="614.4" width="36.4" height="194.6" fill="#FF0000"/>
<text x="236.9" y="596.5" font-size="33" text-anchor="middle" font-family="'Liberation Sans', Arial, Helvetica, sans-serif" font-weight="normal" >2.18</text>
<text x="236.9" y="861.0" font-size="33" text-anchor="middle" font-family="'Liberation Sans', Arial, Helvetica, sans-serif" font-weight="normal" >1</text>
<rect x="292.9" y="703.6" width="36.4" height="105.4" fill="#C55A11"/>
<text x="311.1" y="685.7" font-size="33" text-anchor="middle" font-family="'Liberation Sans', Arial, Helvetica, sans-serif" font-weight="normal" >1.96</text>
<text x="311.1" y="861.0" font-size="33" text-anchor="middle" font-family="'Liberation Sans', Arial, Helvetica, sans-serif" font-weight="normal" >2</text>
<rect x="367.1" y="679.3" width="36.4" height="129.7" fill="#FFCA00"/>
<text x="385.3" y="661.4" font-size="33" text-anchor="middle" font-family="'Liberation Sans', Arial, Helvetica, sans-serif" font-weight="normal" >2.02</text>
<text x="385.3" y="861.0" font-size="33" text-anchor="middle" font-family="'Liberation Sans', Arial, Helvetica, sans-serif" font-weight="normal" >3</text>
<rect x="441.3" y="659.0" width="36.4" height="150.0" fill="#548235"/>
<text x="459.5" y="641.1" font-size="33" text-anchor="middle" font-family="'Liberation Sans', Arial, Helvetica, sans-serif" font-weight="normal" >2.07</text>
<text x="459.5" y="861.0" font-size="33" text-anchor="middle" font-family="'Liberation Sans', Arial, Helvetica, sans-serif" font-weight="normal" >4</text>
<rect x="515.5" y="598.2" width="36.4" height="210.8" fill="#4472C4"/>
<text x="533.7" y="580.3" font-size="33" text-anchor="middle" font-family="'Liberation Sans', Arial, Helvetica, sans-serif" font-weight="normal" >2.22</text>
<text x="533.7" y="861.0" font-size="33" text-anchor="middle" font-family="'Liberation Sans', Arial, Helvetica, sans-serif" font-weight="normal" >5</text>
<rect x="589.7" y="719.8" width="36.4" height="89.2" fill="#203864"/>
<text x="607.9" y="701.9" font-size="33" text-anchor="middle" font-family="'Liberation Sans', Arial, Helvetica, sans-serif" font-weight="normal" >1.92</text>
<text x="607.9" y="861.0" font-size="33" text-anchor="middle" font-family="'Liberation Sans', Arial, Helvetica, sans-serif" font-weight="normal" >6</text>
<rect x="663.9" y="736.0" width="36.4" height="73.0" fill="#7030A0"/>
<text x="682.1" y="718.1" font-size="33" text-anchor="middle" font-family="'Liberation Sans', Arial, Helvetica, sans-serif" font-weight="normal" >1.88</text>
<text x="682.1" y="861.0" font-size="33" text-anchor="middle" font-family="'Liberation Sans', Arial, Helvetica, sans-serif" font-weight="normal" >7</text>
<text x="170.4" y="820.0" font-size="33" text-anchor="end" font-family="'Liberation Sans', Arial, Helvetica, sans-serif" font-weight="normal" >1.7</text>
<text x="170.4" y="738.9" font-size="33" text-anchor="end" font-family="'Liberation Sans', Arial, Helvetica, sans-serif" font-weight="normal" >1.9</text>
<text x="170.4" y="657.9" font-size="33" text-anchor="end" font-family="'Liberation Sans', Arial, Helvetica, sans-serif" font-weight="normal" >2.1</text>
<text x="170.4" y="576.8" font-size="33" text-anchor="end" font-family="'Liberation Sans', Arial, Helvetica, sans-serif" font-weight="normal" >2.3</text>
<text x="460.6" y="905.0" font-size="33" text-anchor="middle" font-family="'Liberation Sans', Arial, Helvetica, sans-serif" font-weight="normal" >Index</text>
<text transform="translate(110.80,760.87) rotate(-90) scale(0.9999,1)" x="0" y="0" font-size="36.82" font-family="'Liberation Serif', 'Times New Roman', serif" font-weight="normal" font-style="normal" fill="#000">Δ</text>
<text transform="translate(110.80,738.26) rotate(-90) scale(1.0131,1)" x="0" y="0" font-size="33.28" font-family="'Liberation Serif', 'Times New Roman', serif" font-weight="normal" font-style="italic" fill="#000">E</text>
<text transform="translate(110.54,717.28) rotate(-90) scale(1.0457,1)" x="0" y="0" font-size="25.78" font-family="'Liberation Serif', 'Times New Roman', serif" font-weight="normal" font-style="normal" fill="#000">00</text>
<text transform="translate(110.46,680.50) rotate(-90) scale(0.9592,1)" x="0" y="0" font-size="33.74" font-family="'Liberation Sans', Arial, sans-serif" font-weight="normal" font-style="normal" fill="#000">/</text>
<text transform="translate(110.80,663.26) rotate(-90) scale(1.0312,1)" x="0" y="0" font-size="32.22" font-family="'Liberation Sans', Arial, sans-serif" font-weight="normal" font-style="normal" fill="#000">nm</text>
<text x="-1.1" y="593.7" font-size="48" text-anchor="start" font-family="'Liberation Sans', Arial, Helvetica, sans-serif" font-weight="normal" >(b)</text>
<text x="763.2" y="35.6" font-size="48" text-anchor="start" font-family="'Liberation Sans', Arial, Helvetica, sans-serif" font-weight="normal" >(c)</text>
<g stroke="#DEDEDE" stroke-width="1.3" fill="none">
<line x1="905.3" y1="89.0" x2="1261.4" y2="89.0"/><line x1="905.3" y1="178.2" x2="1261.4" y2="178.2"/>
<line x1="1083.3" y1="89.0" x2="1083.3" y2="267.3"/><line x1="1261.4" y1="89.0" x2="1261.4" y2="267.3"/>
</g>
<circle cx="1090.5" cy="165.5" r="11.0" fill="#9190AA" stroke="#111" stroke-width="2.1"/>
<circle cx="1076.5" cy="164.8" r="11.0" fill="#819A98" stroke="#111" stroke-width="2.1"/>
<circle cx="1062.6" cy="163.8" r="11.0" fill="#7A9C8C" stroke="#111" stroke-width="2.1"/>
<circle cx="1048.4" cy="162.8" r="11.0" fill="#6BA080" stroke="#111" stroke-width="2.1"/>
<line x1="1083.3" y1="267.3" x2="1083.3" y2="163.8" stroke="#1A1A1A" stroke-width="1.7"/>
<g stroke="#808080" stroke-width="2.8" fill="none" stroke-linecap="round" stroke-linejoin="miter">
<line x1="1107.8" y1="201.3" x2="1021.9" y2="191.1"/>
<polyline points="1039.1,184.4 1021.9,191.1 1037.1,201.7"/>
</g>
<g stroke="#262626" stroke-width="2" fill="none" stroke-linecap="round">
<line x1="905.3" y1="89.0" x2="905.3" y2="267.3" stroke="#404040" stroke-width="2.2"/><line x1="905.3" y1="267.3" x2="1261.4" y2="267.3" stroke="#1E1E1E" stroke-width="2.5"/>
<line x1="905.3" y1="89.0" x2="908.8" y2="89.0"/>
<line x1="905.3" y1="178.2" x2="908.8" y2="178.2"/>
<line x1="1083.3" y1="267.3" x2="1083.3" y2="263.8"/>
<line x1="1261.4" y1="267.3" x2="1261.4" y2="263.8"/>
</g>
<text transform="translate(841.48,98.72) scale(1.0885,1)" x="0" y="0" font-size="28.45" font-family="'Liberation Sans', Arial, sans-serif" font-weight="normal" font-style="normal" fill="#262626">100</text>
<text transform="translate(858.25,189.06) scale(1.0808,1)" x="0" y="0" font-size="29.01" font-family="'Liberation Sans', Arial, sans-serif" font-weight="normal" font-style="normal" fill="#262626">50</text>
<text transform="translate(874.99,277.81) scale(1.1357,1)" x="0" y="0" font-size="28.73" font-family="'Liberation Sans', Arial, sans-serif" font-weight="normal" font-style="normal" fill="#262626">0</text>
<text transform="translate(871.95,304.81) scale(1.1177,1)" x="0" y="0" font-size="28.73" font-family="'Liberation Sans', Arial, sans-serif" font-weight="normal" font-style="normal" fill="#262626">-100</text>
<text transform="translate(1075.55,304.81) scale(1.0844,1)" x="0" y="0" font-size="28.73" font-family="'Liberation Sans', Arial, sans-serif" font-weight="normal" font-style="normal" fill="#262626">0</text>
<text transform="translate(1236.73,305.01) scale(1.0769,1)" x="0" y="0" font-size="29.30" font-family="'Liberation Sans', Arial, sans-serif" font-weight="normal" font-style="normal" fill="#262626">100</text>
<text transform="translate(1068.22,344.39) scale(1.0533,1)" x="0" y="0" font-size="31.29" font-family="'Liberation Sans', Arial, sans-serif" font-weight="normal" font-style="normal" fill="#262626">a*</text>
<text transform="translate(817.25,169.70) scale(1.0299,1)" x="0" y="0" font-size="32.17" font-family="'Liberation Sans', Arial, sans-serif" font-weight="normal" font-style="normal" fill="#262626">L*</text>
<text transform="translate(908.96,122.50) scale(0.9735,1)" x="0" y="0" font-size="31.82" font-family="'Liberation Serif', 'Times New Roman', serif" font-weight="normal" font-style="normal" fill="#000">Δ</text>
<text transform="translate(929.96,122.50) scale(0.9781,1)" x="0" y="0" font-size="32.06" font-family="'Liberation Serif', 'Times New Roman', serif" font-weight="bold" font-style="italic" fill="#000">E</text>
<text transform="translate(950.22,129.07) scale(1.2746,1)" x="0" y="0" font-size="23.11" font-family="'Liberation Serif', 'Times New Roman', serif" font-weight="normal" font-style="normal" fill="#000">00</text>
<text transform="translate(980.64,125.95) skewX(-8.587)" x="0" y="0" font-size="37.58" font-family="'Liberation Sans', Arial, sans-serif" font-weight="bold" font-style="normal" fill="#000">/</text>
<text transform="translate(994.90,122.50) scale(1.0205,1)" x="0" y="0" font-size="30.19" font-family="'Liberation Sans', Arial, sans-serif" font-weight="bold" font-style="normal" fill="#000">nm</text>
<text transform="translate(1047.88,121.00) scale(1.1168,1)" x="0" y="0" font-size="25.00" font-family="'Liberation Sans', Arial, sans-serif" font-weight="bold" font-style="normal" fill="#000">=</text>
<text transform="translate(1071.91,122.50) scale(1.0735,1)" x="0" y="0" font-size="29.14" font-family="'Liberation Sans', Arial, sans-serif" font-weight="bold" font-style="normal" fill="#000">2.22</text>
<g stroke="#DEDEDE" stroke-width="1.3" fill="none">
<line x1="1386.2" y1="88.8" x2="1742.4" y2="88.8"/><line x1="1386.2" y1="178.1" x2="1742.4" y2="178.1"/>
<line x1="1564.2" y1="88.8" x2="1564.2" y2="267.4"/><line x1="1742.4" y1="88.8" x2="1742.4" y2="267.4"/>
</g>
<circle cx="1548.3" cy="165.7" r="11.0" fill="#9190AA" stroke="#111" stroke-width="2.1"/>
<circle cx="1558.7" cy="164.8" r="11.0" fill="#819A98" stroke="#111" stroke-width="2.1"/>
<circle cx="1569.2" cy="163.8" r="11.0" fill="#76A08A" stroke="#111" stroke-width="2.1"/>
<circle cx="1580.0" cy="162.4" r="11.0" fill="#6BA080" stroke="#111" stroke-width="2.1"/>
<line x1="1564.2" y1="267.4" x2="1564.2" y2="163.6" stroke="#1A1A1A" stroke-width="1.7"/>
<g stroke="#808080" stroke-width="2.8" fill="none" stroke-linecap="round" stroke-linejoin="miter">
<line x1="1544.7" y1="196.5" x2="1603.9" y2="191.0"/>
<polyline points="1588.4,201.2 1603.9,191.0 1586.8,183.9"/>
</g>
<g stroke="#262626" stroke-width="2" fill="none" stroke-linecap="round">
<line x1="1386.2" y1="88.8" x2="1386.2" y2="267.4" stroke="#404040" stroke-width="2.2"/><line x1="1386.2" y1="267.4" x2="1742.4" y2="267.4" stroke="#1E1E1E" stroke-width="2.5"/>
<line x1="1386.2" y1="88.8" x2="1389.7" y2="88.8"/>
<line x1="1386.2" y1="178.1" x2="1389.7" y2="178.1"/>
<line x1="1564.2" y1="267.4" x2="1564.2" y2="263.9"/>
<line x1="1742.4" y1="267.4" x2="1742.4" y2="263.9"/>
</g>
<text transform="translate(1322.38,98.52) scale(1.0885,1)" x="0" y="0" font-size="28.45" font-family="'Liberation Sans', Arial, sans-serif" font-weight="normal" font-style="normal" fill="#262626">100</text>
<text transform="translate(1339.15,189.01) scale(1.0808,1)" x="0" y="0" font-size="29.01" font-family="'Liberation Sans', Arial, sans-serif" font-weight="normal" font-style="normal" fill="#262626">50</text>
<text transform="translate(1355.89,277.91) scale(1.1357,1)" x="0" y="0" font-size="28.73" font-family="'Liberation Sans', Arial, sans-serif" font-weight="normal" font-style="normal" fill="#262626">0</text>
<text transform="translate(1352.85,304.91) scale(1.1177,1)" x="0" y="0" font-size="28.73" font-family="'Liberation Sans', Arial, sans-serif" font-weight="normal" font-style="normal" fill="#262626">-100</text>
<text transform="translate(1556.45,304.91) scale(1.0844,1)" x="0" y="0" font-size="28.73" font-family="'Liberation Sans', Arial, sans-serif" font-weight="normal" font-style="normal" fill="#262626">0</text>
<text transform="translate(1717.73,305.11) scale(1.0769,1)" x="0" y="0" font-size="29.30" font-family="'Liberation Sans', Arial, sans-serif" font-weight="normal" font-style="normal" fill="#262626">100</text>
<text transform="translate(1548.20,343.11) scale(1.2372,1)" x="0" y="0" font-size="28.57" font-family="'Liberation Sans', Arial, sans-serif" font-weight="normal" font-style="normal" fill="#262626">b*</text>
<text transform="translate(1298.15,169.65) scale(1.0299,1)" x="0" y="0" font-size="32.17" font-family="'Liberation Sans', Arial, sans-serif" font-weight="normal" font-style="normal" fill="#262626">L*</text>
<g stroke="#DEDEDE" stroke-width="1.3" fill="none">
<line x1="915.9" y1="367.2" x2="1268.3" y2="367.2"/><line x1="915.9" y1="454.9" x2="1268.3" y2="454.9"/>
<line x1="1091.9" y1="367.2" x2="1091.9" y2="542.6"/><line x1="1268.3" y1="367.2" x2="1268.3" y2="542.6"/>
</g>
<circle cx="1092.9" cy="447.9" r="11.0" fill="#8B8FA2" stroke="#111" stroke-width="2.1"/>
<circle cx="1079.4" cy="446.5" r="11.0" fill="#78968F" stroke="#111" stroke-width="2.1"/>
<circle cx="1066.3" cy="445.6" r="11.0" fill="#6E9C86" stroke="#111" stroke-width="2.1"/>
<circle cx="1052.9" cy="444.7" r="11.0" fill="#6AA27F" stroke="#111" stroke-width="2.1"/>
<line x1="1091.9" y1="542.6" x2="1091.9" y2="446.0" stroke="#1A1A1A" stroke-width="1.7"/>
<g stroke="#808080" stroke-width="2.8" fill="none" stroke-linecap="round" stroke-linejoin="miter">
<line x1="1108.9" y1="480.8" x2="1024.0" y2="476.0"/>
<polyline points="1040.8,468.3 1024.0,476.0 1039.8,485.6"/>
</g>
<g stroke="#262626" stroke-width="2" fill="none" stroke-linecap="round">
<line x1="915.9" y1="367.2" x2="915.9" y2="542.6" stroke="#404040" stroke-width="2.2"/><line x1="915.9" y1="542.6" x2="1268.3" y2="542.6" stroke="#1E1E1E" stroke-width="2.5"/>
<line x1="915.9" y1="367.2" x2="919.4" y2="367.2"/>
<line x1="915.9" y1="454.9" x2="919.4" y2="454.9"/>
<line x1="1091.9" y1="542.6" x2="1091.9" y2="539.1"/>
<line x1="1268.3" y1="542.6" x2="1268.3" y2="539.1"/>
</g>
<text transform="translate(852.08,376.92) scale(1.0885,1)" x="0" y="0" font-size="28.45" font-family="'Liberation Sans', Arial, sans-serif" font-weight="normal" font-style="normal" fill="#262626">100</text>
<text transform="translate(868.85,465.81) scale(1.0808,1)" x="0" y="0" font-size="29.01" font-family="'Liberation Sans', Arial, sans-serif" font-weight="normal" font-style="normal" fill="#262626">50</text>
<text transform="translate(885.59,553.11) scale(1.1357,1)" x="0" y="0" font-size="28.73" font-family="'Liberation Sans', Arial, sans-serif" font-weight="normal" font-style="normal" fill="#262626">0</text>
<text transform="translate(882.55,580.11) scale(1.1177,1)" x="0" y="0" font-size="28.73" font-family="'Liberation Sans', Arial, sans-serif" font-weight="normal" font-style="normal" fill="#262626">-100</text>
<text transform="translate(1084.15,580.11) scale(1.0844,1)" x="0" y="0" font-size="28.73" font-family="'Liberation Sans', Arial, sans-serif" font-weight="normal" font-style="normal" fill="#262626">0</text>
<text transform="translate(1243.63,580.31) scale(1.0769,1)" x="0" y="0" font-size="29.30" font-family="'Liberation Sans', Arial, sans-serif" font-weight="normal" font-style="normal" fill="#262626">100</text>
<text transform="translate(1076.82,619.69) scale(1.0533,1)" x="0" y="0" font-size="31.29" font-family="'Liberation Sans', Arial, sans-serif" font-weight="normal" font-style="normal" fill="#262626">a*</text>
<text transform="translate(827.85,446.45) scale(1.0299,1)" x="0" y="0" font-size="32.17" font-family="'Liberation Sans', Arial, sans-serif" font-weight="normal" font-style="normal" fill="#262626">L*</text>
<text transform="translate(916.86,400.50) scale(0.9735,1)" x="0" y="0" font-size="31.82" font-family="'Liberation Serif', 'Times New Roman', serif" font-weight="normal" font-style="normal" fill="#000">Δ</text>
<text transform="translate(937.86,400.50) scale(0.9781,1)" x="0" y="0" font-size="32.06" font-family="'Liberation Serif', 'Times New Roman', serif" font-weight="bold" font-style="italic" fill="#000">E</text>
<text transform="translate(958.12,407.07) scale(1.2746,1)" x="0" y="0" font-size="23.11" font-family="'Liberation Serif', 'Times New Roman', serif" font-weight="normal" font-style="normal" fill="#000">00</text>
<text transform="translate(988.54,403.95) skewX(-8.587)" x="0" y="0" font-size="37.58" font-family="'Liberation Sans', Arial, sans-serif" font-weight="bold" font-style="normal" fill="#000">/</text>
<text transform="translate(1002.80,400.50) scale(1.0205,1)" x="0" y="0" font-size="30.19" font-family="'Liberation Sans', Arial, sans-serif" font-weight="bold" font-style="normal" fill="#000">nm</text>
<text transform="translate(1055.78,399.00) scale(1.1168,1)" x="0" y="0" font-size="25.00" font-family="'Liberation Sans', Arial, sans-serif" font-weight="bold" font-style="normal" fill="#000">=</text>
<text transform="translate(1079.81,400.21) scale(1.0830,1)" x="0" y="0" font-size="28.73" font-family="'Liberation Sans', Arial, sans-serif" font-weight="bold" font-style="normal" fill="#000">2.18</text>
<g stroke="#DEDEDE" stroke-width="1.3" fill="none">
<line x1="1391.4" y1="367.2" x2="1743.1" y2="367.2"/><line x1="1391.4" y1="454.9" x2="1743.1" y2="454.9"/>
<line x1="1567.0" y1="367.2" x2="1567.0" y2="542.6"/><line x1="1743.1" y1="367.2" x2="1743.1" y2="542.6"/>
</g>
<circle cx="1555.0" cy="448.0" r="11.0" fill="#8E90A4" stroke="#111" stroke-width="2.1"/>
<circle cx="1565.0" cy="447.0" r="11.0" fill="#7B9A92" stroke="#111" stroke-width="2.1"/>
<circle cx="1575.5" cy="446.0" r="11.0" fill="#6E9C84" stroke="#111" stroke-width="2.1"/>
<circle cx="1585.5" cy="444.5" r="11.0" fill="#66A07C" stroke="#111" stroke-width="2.1"/>
<line x1="1567.0" y1="542.6" x2="1567.0" y2="446.0" stroke="#1A1A1A" stroke-width="1.7"/>
<g stroke="#808080" stroke-width="2.8" fill="none" stroke-linecap="round" stroke-linejoin="miter">
<line x1="1544.0" y1="480.8" x2="1603.8" y2="476.0"/>
<polyline points="1588.2,486.0 1603.8,476.0 1586.8,468.6"/>
</g>
<g stroke="#262626" stroke-width="2" fill="none" stroke-linecap="round">
<line x1="1391.4" y1="367.2" x2="1391.4" y2="542.6" stroke="#404040" stroke-width="2.2"/><line x1="1391.4" y1="542.6" x2="1743.1" y2="542.6" stroke="#1E1E1E" stroke-width="2.5"/>
<line x1="1391.4" y1="367.2" x2="1394.9" y2="367.2"/>
<line x1="1391.4" y1="454.9" x2="1394.9" y2="454.9"/>
<line x1="1567.0" y1="542.6" x2="1567.0" y2="539.1"/>
<line x1="1743.1" y1="542.6" x2="1743.1" y2="539.1"/>
</g>
<text transform="translate(1327.58,376.92) scale(1.0885,1)" x="0" y="0" font-size="28.45" font-family="'Liberation Sans', Arial, sans-serif" font-weight="normal" font-style="normal" fill="#262626">100</text>
<text transform="translate(1344.35,465.81) scale(1.0808,1)" x="0" y="0" font-size="29.01" font-family="'Liberation Sans', Arial, sans-serif" font-weight="normal" font-style="normal" fill="#262626">50</text>
<text transform="translate(1361.09,553.11) scale(1.1357,1)" x="0" y="0" font-size="28.73" font-family="'Liberation Sans', Arial, sans-serif" font-weight="normal" font-style="normal" fill="#262626">0</text>
<text transform="translate(1358.05,580.11) scale(1.1177,1)" x="0" y="0" font-size="28.73" font-family="'Liberation Sans', Arial, sans-serif" font-weight="normal" font-style="normal" fill="#262626">-100</text>
<text transform="translate(1559.25,580.11) scale(1.0844,1)" x="0" y="0" font-size="28.73" font-family="'Liberation Sans', Arial, sans-serif" font-weight="normal" font-style="normal" fill="#262626">0</text>
<text transform="translate(1718.43,580.31) scale(1.0769,1)" x="0" y="0" font-size="29.30" font-family="'Liberation Sans', Arial, sans-serif" font-weight="normal" font-style="normal" fill="#262626">100</text>
<text transform="translate(1551.00,618.31) scale(1.2372,1)" x="0" y="0" font-size="28.57" font-family="'Liberation Sans', Arial, sans-serif" font-weight="normal" font-style="normal" fill="#262626">b*</text>
<text transform="translate(1303.35,446.45) scale(1.0299,1)" x="0" y="0" font-size="32.17" font-family="'Liberation Sans', Arial, sans-serif" font-weight="normal" font-style="normal" fill="#262626">L*</text>
<g stroke="#DEDEDE" stroke-width="1.3" fill="none">
<line x1="923.1" y1="641.2" x2="1267.2" y2="641.2"/><line x1="923.1" y1="727.7" x2="1267.2" y2="727.7"/>
<line x1="1095.2" y1="641.2" x2="1095.2" y2="814.2"/><line x1="1267.2" y1="641.2" x2="1267.2" y2="814.2"/>
</g>
<circle cx="1102.4" cy="737.4" r="11.0" fill="#6A6C88" stroke="#111" stroke-width="2.1"/>
<circle cx="1087.3" cy="736.0" r="11.0" fill="#5E7880" stroke="#111" stroke-width="2.1"/>
<circle cx="1073.1" cy="734.5" r="11.0" fill="#5A8878" stroke="#111" stroke-width="2.1"/>
<circle cx="1058.2" cy="733.0" r="11.0" fill="#4E8468" stroke="#111" stroke-width="2.1"/>
<line x1="1095.2" y1="814.2" x2="1095.2" y2="729.0" stroke="#1A1A1A" stroke-width="1.7"/>
<g stroke="#808080" stroke-width="2.8" fill="none" stroke-linecap="round" stroke-linejoin="miter">
<line x1="1115.7" y1="767.7" x2="1030.5" y2="762.7"/>
<polyline points="1047.3,755.0 1030.5,762.7 1046.3,772.3"/>
</g>
<g stroke="#262626" stroke-width="2" fill="none" stroke-linecap="round">
<line x1="923.1" y1="641.2" x2="923.1" y2="814.2" stroke="#404040" stroke-width="2.2"/><line x1="923.1" y1="814.2" x2="1267.2" y2="814.2" stroke="#1E1E1E" stroke-width="2.5"/>
<line x1="923.1" y1="641.2" x2="926.6" y2="641.2"/>
<line x1="923.1" y1="727.7" x2="926.6" y2="727.7"/>
<line x1="1095.2" y1="814.2" x2="1095.2" y2="810.7"/>
<line x1="1267.2" y1="814.2" x2="1267.2" y2="810.7"/>
</g>
<text transform="translate(859.28,650.92) scale(1.0885,1)" x="0" y="0" font-size="28.45" font-family="'Liberation Sans', Arial, sans-serif" font-weight="normal" font-style="normal" fill="#262626">100</text>
<text transform="translate(876.05,738.61) scale(1.0808,1)" x="0" y="0" font-size="29.01" font-family="'Liberation Sans', Arial, sans-serif" font-weight="normal" font-style="normal" fill="#262626">50</text>
<text transform="translate(892.79,824.71) scale(1.1357,1)" x="0" y="0" font-size="28.73" font-family="'Liberation Sans', Arial, sans-serif" font-weight="normal" font-style="normal" fill="#262626">0</text>
<text transform="translate(889.75,851.71) scale(1.1177,1)" x="0" y="0" font-size="28.73" font-family="'Liberation Sans', Arial, sans-serif" font-weight="normal" font-style="normal" fill="#262626">-100</text>
<text transform="translate(1087.45,851.71) scale(1.0844,1)" x="0" y="0" font-size="28.73" font-family="'Liberation Sans', Arial, sans-serif" font-weight="normal" font-style="normal" fill="#262626">0</text>
<text transform="translate(1242.53,851.91) scale(1.0769,1)" x="0" y="0" font-size="29.30" font-family="'Liberation Sans', Arial, sans-serif" font-weight="normal" font-style="normal" fill="#262626">100</text>
<text transform="translate(1080.12,891.29) scale(1.0533,1)" x="0" y="0" font-size="31.29" font-family="'Liberation Sans', Arial, sans-serif" font-weight="normal" font-style="normal" fill="#262626">a*</text>
<text transform="translate(836.75,719.25) scale(1.0299,1)" x="0" y="0" font-size="32.17" font-family="'Liberation Sans', Arial, sans-serif" font-weight="normal" font-style="normal" fill="#262626">L*</text>
<text transform="translate(925.96,676.40) scale(0.9735,1)" x="0" y="0" font-size="31.82" font-family="'Liberation Serif', 'Times New Roman', serif" font-weight="normal" font-style="normal" fill="#000">Δ</text>
<text transform="translate(946.96,676.40) scale(0.9781,1)" x="0" y="0" font-size="32.06" font-family="'Liberation Serif', 'Times New Roman', serif" font-weight="bold" font-style="italic" fill="#000">E</text>
<text transform="translate(967.22,682.97) scale(1.2746,1)" x="0" y="0" font-size="23.11" font-family="'Liberation Serif', 'Times New Roman', serif" font-weight="normal" font-style="normal" fill="#000">00</text>
<text transform="translate(997.64,679.85) skewX(-8.587)" x="0" y="0" font-size="37.58" font-family="'Liberation Sans', Arial, sans-serif" font-weight="bold" font-style="normal" fill="#000">/</text>
<text transform="translate(1011.90,676.40) scale(1.0205,1)" x="0" y="0" font-size="30.19" font-family="'Liberation Sans', Arial, sans-serif" font-weight="bold" font-style="normal" fill="#000">nm</text>
<text transform="translate(1064.88,674.90) scale(1.1168,1)" x="0" y="0" font-size="25.00" font-family="'Liberation Sans', Arial, sans-serif" font-weight="bold" font-style="normal" fill="#000">=</text>
<text transform="translate(1088.90,676.11) scale(1.0917,1)" x="0" y="0" font-size="28.73" font-family="'Liberation Sans', Arial, sans-serif" font-weight="bold" font-style="normal" fill="#000">2.07</text>
<g stroke="#DEDEDE" stroke-width="1.3" fill="none">
<line x1="1388.9" y1="641.2" x2="1733.0" y2="641.2"/><line x1="1388.9" y1="727.7" x2="1733.0" y2="727.7"/>
<line x1="1560.4" y1="641.2" x2="1560.4" y2="814.2"/><line x1="1733.0" y1="641.2" x2="1733.0" y2="814.2"/>
</g>
<circle cx="1539.4" cy="737.5" r="11.0" fill="#6E6E8C" stroke="#111" stroke-width="2.1"/>
<circle cx="1549.8" cy="736.3" r="11.0" fill="#607E84" stroke="#111" stroke-width="2.1"/>
<circle cx="1561.0" cy="734.8" r="11.0" fill="#5B8A78" stroke="#111" stroke-width="2.1"/>
<circle cx="1573.0" cy="733.6" r="11.0" fill="#4E8468" stroke="#111" stroke-width="2.1"/>
<line x1="1560.4" y1="814.2" x2="1560.4" y2="735.0" stroke="#1A1A1A" stroke-width="1.7"/>
<g stroke="#808080" stroke-width="2.8" fill="none" stroke-linecap="round" stroke-linejoin="miter">
<line x1="1534.1" y1="765.9" x2="1592.6" y2="759.9"/>
<polyline points="1577.2,770.2 1592.6,759.9 1575.5,752.9"/>
</g>
<g stroke="#262626" stroke-width="2" fill="none" stroke-linecap="round">
<line x1="1388.9" y1="641.2" x2="1388.9" y2="814.2" stroke="#404040" stroke-width="2.2"/><line x1="1388.9" y1="814.2" x2="1733.0" y2="814.2" stroke="#1E1E1E" stroke-width="2.5"/>
<line x1="1388.9" y1="641.2" x2="1392.4" y2="641.2"/>
<line x1="1388.9" y1="727.7" x2="1392.4" y2="727.7"/>
<line x1="1560.4" y1="814.2" x2="1560.4" y2="810.7"/>
<line x1="1733.0" y1="814.2" x2="1733.0" y2="810.7"/>
</g>
<text transform="translate(1325.08,650.92) scale(1.0885,1)" x="0" y="0" font-size="28.45" font-family="'Liberation Sans', Arial, sans-serif" font-weight="normal" font-style="normal" fill="#262626">100</text>
<text transform="translate(1341.85,738.61) scale(1.0808,1)" x="0" y="0" font-size="29.01" font-family="'Liberation Sans', Arial, sans-serif" font-weight="normal" font-style="normal" fill="#262626">50</text>
<text transform="translate(1358.59,824.71) scale(1.1357,1)" x="0" y="0" font-size="28.73" font-family="'Liberation Sans', Arial, sans-serif" font-weight="normal" font-style="normal" fill="#262626">0</text>
<text transform="translate(1355.55,851.71) scale(1.1177,1)" x="0" y="0" font-size="28.73" font-family="'Liberation Sans', Arial, sans-serif" font-weight="normal" font-style="normal" fill="#262626">-100</text>
<text transform="translate(1552.65,851.71) scale(1.0844,1)" x="0" y="0" font-size="28.73" font-family="'Liberation Sans', Arial, sans-serif" font-weight="normal" font-style="normal" fill="#262626">0</text>
<text transform="translate(1708.33,851.91) scale(1.0769,1)" x="0" y="0" font-size="29.30" font-family="'Liberation Sans', Arial, sans-serif" font-weight="normal" font-style="normal" fill="#262626">100</text>
<text transform="translate(1544.40,889.91) scale(1.2372,1)" x="0" y="0" font-size="28.57" font-family="'Liberation Sans', Arial, sans-serif" font-weight="normal" font-style="normal" fill="#262626">b*</text>
<text transform="translate(1302.55,719.25) scale(1.0299,1)" x="0" y="0" font-size="32.17" font-family="'Liberation Sans', Arial, sans-serif" font-weight="normal" font-style="normal" fill="#262626">L*</text>
</svg>
</body></html>
